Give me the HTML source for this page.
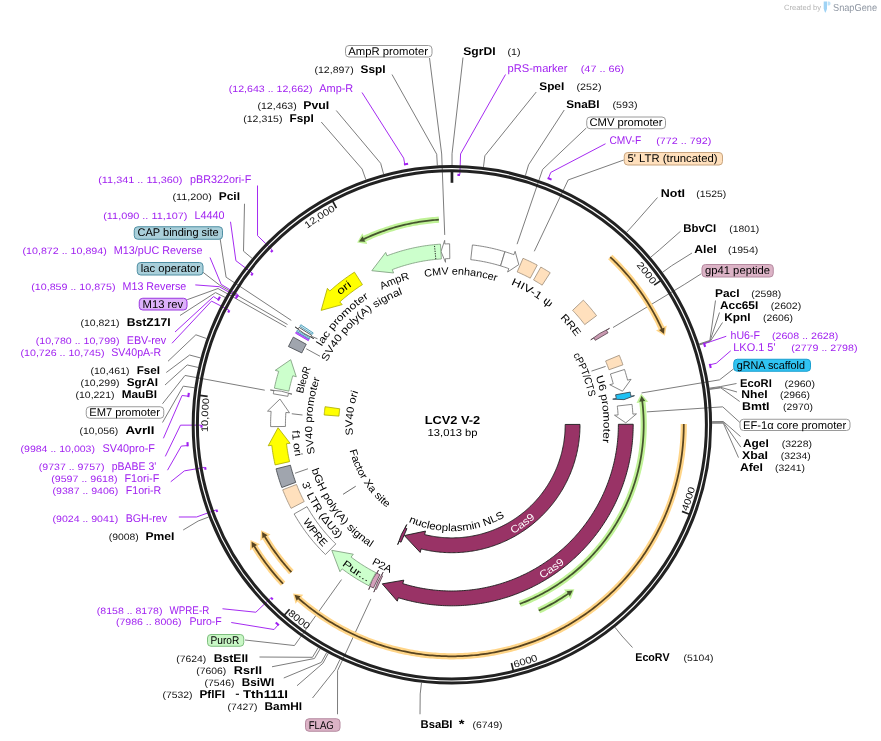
<!DOCTYPE html><html><head><meta charset="utf-8"><title>LCV2 V-2</title><style>html,body{margin:0;padding:0;background:#fff}svg{display:block;will-change:transform}text{text-rendering:geometricPrecision}</style></head><body><svg width="881" height="741" viewBox="0 0 881 741" font-family='"Liberation Sans", sans-serif'>
<defs><path id="p1" d="M537.48 196.68 A243.6 243.6 0 0 1 651.55 284.77"/><path id="p2" d="M687.59 511.57 A250.8 250.8 0 0 0 695.49 363.55"/><path id="p3" d="M514.5 667.69 A250.8 250.8 0 0 0 640.93 589.98"/><path id="p4" d="M287.43 614.37 A250.8 250.8 0 0 0 423.37 673.98"/><path id="p5" d="M236.77 539.72 A243.6 243.6 0 0 1 209.35 398.37"/><path id="p6" d="M234.85 313.52 A243.6 243.6 0 0 1 335.7 210.6"/><path id="p7" d="M310.29 376.35 A149.46 149.46 0 0 1 598.26 393.43"/><path id="p8" d="M347.88 314.15 A151.76 151.76 0 0 1 598.17 466.08"/><path id="p9" d="M388.95 286.78 A151.66 151.66 0 0 1 577.11 510.67"/><path id="p10" d="M439.27 285.81 A139.56 139.56 0 0 1 534.48 537.39"/><path id="p11" d="M477.26 275.37 A151.56 151.56 0 0 1 507.33 565.89"/><path id="p12" d="M351.41 458.21 A105.74 105.74 0 0 0 555.26 447.9"/><path id="p13" d="M373.05 354.95 A105.24 105.24 0 0 0 483.4 525.24"/><path id="p14" d="M414.31 516.69 A99.26 99.26 0 0 1 436.66 326.72"/><path id="p15" d="M405.71 556.73 A139.76 139.76 0 0 1 423.36 287.98"/><path id="p16" d="M370.46 553.05 A151.86 151.86 0 0 1 455.47 272.99"/><path id="p17" d="M391.3 276.96 A159.74 159.74 0 0 0 427.49 582.67"/><path id="p18" d="M335.11 335.38 A146.94 146.94 0 0 0 505.8 561.53"/><path id="p19" d="M330.92 318.74 A160.74 160.74 0 0 0 500.81 577.95"/><path id="p20" d="M321.48 501.76 A151.26 151.26 0 0 1 523.92 291.73"/><path id="p21" d="M327 486.79 A139.26 139.26 0 0 1 526.91 307.4"/><path id="p22" d="M301.31 441.36 A151.26 151.26 0 0 1 572.39 333.11"/><path id="p23" d="M294.78 394.64 A159.74 159.74 0 0 0 570.96 531.51"/><path id="p24" d="M282.42 370.85 A177.6 177.6 0 0 0 569.27 558.26"/><path id="p25" d="M308.8 319.91 A177.24 177.24 0 0 0 520.36 588.33"/><path id="p26" d="M294.4 490.85 A170.56 170.56 0 0 1 552.76 287.14"/><path id="p27" d="M338.22 561.59 A177.74 177.74 0 0 0 619.94 366.1"/><path id="p28" d="M373.59 521.61 A124.44 124.44 0 0 0 568.99 382.15"/></defs>
<rect width="881" height="741" fill="#fff"/>
<polyline points="463,57.5 452.03,153.8 452.03,165" fill="none" stroke="#7d7d7d" stroke-width="1.0" stroke-linejoin="round"/>
<polyline points="536.25,92 484.85,155.8 483.48,166.92" fill="none" stroke="#7d7d7d" stroke-width="1.0" stroke-linejoin="round"/>
<polyline points="564.25,110 528.56,164.83 525.39,175.58" fill="none" stroke="#7d7d7d" stroke-width="1.0" stroke-linejoin="round"/>
<polyline points="657.5,197.5 634.19,224.01 626.65,232.3" fill="none" stroke="#7d7d7d" stroke-width="1.0" stroke-linejoin="round"/>
<polyline points="680.5,231.25 659.29,249.97 650.72,257.19" fill="none" stroke="#7d7d7d" stroke-width="1.0" stroke-linejoin="round"/>
<polyline points="692,253 671.65,265.73 662.57,272.3" fill="none" stroke="#7d7d7d" stroke-width="1.0" stroke-linejoin="round"/>
<polyline points="715.5,300.5 709.86,340.48 699.2,343.97" fill="none" stroke="#7d7d7d" stroke-width="1.0" stroke-linejoin="round"/>
<polyline points="719.5,312.5 710.02,340.98 699.36,344.45" fill="none" stroke="#7d7d7d" stroke-width="1.0" stroke-linejoin="round"/>
<polyline points="722.5,322.5 710.19,341.48 699.51,344.92" fill="none" stroke="#7d7d7d" stroke-width="1.0" stroke-linejoin="round"/>
<polyline points="736.5,383.5 720.62,386.56 709.51,388.14" fill="none" stroke="#7d7d7d" stroke-width="1.0" stroke-linejoin="round"/>
<polyline points="737,392 720.73,387.33 709.62,388.88" fill="none" stroke="#7d7d7d" stroke-width="1.0" stroke-linejoin="round"/>
<polyline points="739.7,401.5 720.8,387.85 709.69,389.38" fill="none" stroke="#7d7d7d" stroke-width="1.0" stroke-linejoin="round"/>
<polyline points="740.5,436.5 723.31,421.5 712.1,421.63" fill="none" stroke="#7d7d7d" stroke-width="1.0" stroke-linejoin="round"/>
<polyline points="740.9,447.2 723.32,422.28 712.1,422.39" fill="none" stroke="#7d7d7d" stroke-width="1.0" stroke-linejoin="round"/>
<polyline points="738.5,457.6 723.33,423.2 712.11,423.26" fill="none" stroke="#7d7d7d" stroke-width="1.0" stroke-linejoin="round"/>
<polyline points="632.5,647.5 621.98,636 614.95,627.27" fill="none" stroke="#7d7d7d" stroke-width="1.0" stroke-linejoin="round"/>
<polyline points="420,714.25 420.19,693.94 421.5,682.82" fill="none" stroke="#7d7d7d" stroke-width="1.0" stroke-linejoin="round"/>
<polyline points="392,74.5 436.71,154.22 437.33,165.41" fill="none" stroke="#7d7d7d" stroke-width="1.0" stroke-linejoin="round"/>
<polyline points="336.25,110.5 380.66,163.3 383.61,174.11" fill="none" stroke="#7d7d7d" stroke-width="1.0" stroke-linejoin="round"/>
<polyline points="321.25,122 362.14,169.05 365.85,179.62" fill="none" stroke="#7d7d7d" stroke-width="1.0" stroke-linejoin="round"/>
<polyline points="244.5,203.75 243.5,251.17 252.11,258.35" fill="none" stroke="#7d7d7d" stroke-width="1.0" stroke-linejoin="round"/>
<polyline points="180,315.5 215.5,292.6 225.11,297.42" fill="none" stroke="#7d7d7d" stroke-width="1.0" stroke-linejoin="round"/>
<polyline points="168,361.25 195.88,334.79 206.46,338.51" fill="none" stroke="#7d7d7d" stroke-width="1.0" stroke-linejoin="round"/>
<polyline points="166.25,372.5 189.62,355.03 200.46,357.92" fill="none" stroke="#7d7d7d" stroke-width="1.0" stroke-linejoin="round"/>
<polyline points="165,385 187.17,364.94 198.11,367.42" fill="none" stroke="#7d7d7d" stroke-width="1.0" stroke-linejoin="round"/>
<polyline points="162.5,422.5 183.24,386.17 194.34,387.76" fill="none" stroke="#7d7d7d" stroke-width="1.0" stroke-linejoin="round"/>
<polyline points="183.2,530 198.15,521.02 208.64,517.04" fill="none" stroke="#7d7d7d" stroke-width="1.0" stroke-linejoin="round"/>
<polyline points="259.5,657 312.45,657.3 318.21,647.69" fill="none" stroke="#7d7d7d" stroke-width="1.0" stroke-linejoin="round"/>
<polyline points="272,666.75 314.47,658.5 320.15,648.84" fill="none" stroke="#7d7d7d" stroke-width="1.0" stroke-linejoin="round"/>
<polyline points="283.75,678 321.31,662.38 326.71,652.56" fill="none" stroke="#7d7d7d" stroke-width="1.0" stroke-linejoin="round"/>
<polyline points="297,685.75 322.92,663.25 328.25,653.4" fill="none" stroke="#7d7d7d" stroke-width="1.0" stroke-linejoin="round"/>
<polyline points="312.5,698 335.19,669.47 340.02,659.36" fill="none" stroke="#7d7d7d" stroke-width="1.0" stroke-linejoin="round"/>
<polyline points="505.5,74.5 460.55,153.94 459.9,174.33" fill="none" stroke="#a020f0" stroke-width="0.95" stroke-linejoin="round"/>
<polyline points="605.5,143.75 550.75,172.41 548.38,178.46" fill="none" stroke="#a020f0" stroke-width="0.95" stroke-linejoin="round"/>
<polyline points="726.25,336.25 710.27,341.73 704.07,343.72" fill="none" stroke="#a020f0" stroke-width="0.95" stroke-linejoin="round"/>
<polyline points="730.75,350.75 716.25,363.29 709.91,364.76" fill="none" stroke="#a020f0" stroke-width="0.95" stroke-linejoin="round"/>
<polyline points="362,92.5 403.67,158.11 404.82,164.51" fill="none" stroke="#a020f0" stroke-width="0.95" stroke-linejoin="round"/>
<polyline points="257.5,185.5 257.54,235.63 272.17,249.87" fill="none" stroke="#a020f0" stroke-width="0.95" stroke-linejoin="round"/>
<polyline points="230.5,221.75 235.9,260.69 252.16,273.04" fill="none" stroke="#a020f0" stroke-width="0.95" stroke-linejoin="round"/>
<polyline points="210,257.5 221.2,284.4 237.61,294.31" fill="none" stroke="#a020f0" stroke-width="0.95" stroke-linejoin="round"/>
<polyline points="195.3,284.9 219.2,286.7 236.42,296.28" fill="none" stroke="#a020f0" stroke-width="0.95" stroke-linejoin="round"/>
<polyline points="175,332 213.5,296.6 218.48,299.71" fill="none" stroke="#a020f0" stroke-width="0.95" stroke-linejoin="round"/>
<polyline points="172,343.25 211.5,301.1 228.77,310.03" fill="none" stroke="#a020f0" stroke-width="0.95" stroke-linejoin="round"/>
<polyline points="163.4,438.3 182.06,395.51 188.53,396.22" fill="none" stroke="#a020f0" stroke-width="0.95" stroke-linejoin="round"/>
<polyline points="165.3,456.4 180.47,425.16 200.9,425.13" fill="none" stroke="#a020f0" stroke-width="0.95" stroke-linejoin="round"/>
<polyline points="167.5,470.2 181.3,446.07 187.79,445.56" fill="none" stroke="#a020f0" stroke-width="0.95" stroke-linejoin="round"/>
<polyline points="170.75,481.75 184.42,470.86 204.55,467.4" fill="none" stroke="#a020f0" stroke-width="0.95" stroke-linejoin="round"/>
<polyline points="178.85,517 196.65,516.97 215.86,510.03" fill="none" stroke="#a020f0" stroke-width="0.95" stroke-linejoin="round"/>
<polyline points="222.5,608.75 255.85,612.23 270.61,598.12" fill="none" stroke="#a020f0" stroke-width="0.95" stroke-linejoin="round"/>
<polyline points="231.25,622.5 274.07,629.54 278.34,624.63" fill="none" stroke="#a020f0" stroke-width="0.95" stroke-linejoin="round"/>
<polyline points="429.5,58 441.68,153.99 444.73,234.93" fill="none" stroke="#7d7d7d" stroke-width="1.0" stroke-linejoin="round"/>
<polyline points="586.25,128 542.65,169.39 517.07,244.16" fill="none" stroke="#7d7d7d" stroke-width="1.0" stroke-linejoin="round"/>
<polyline points="623.75,160 568.19,179.93 534.29,251.31" fill="none" stroke="#7d7d7d" stroke-width="1.0" stroke-linejoin="round"/>
<polyline points="701.25,273.75 684.18,284.59 613.04,327.53" fill="none" stroke="#7d7d7d" stroke-width="1.0" stroke-linejoin="round"/>
<polyline points="733.75,368.75 719.57,379.83 641.54,392.94" fill="none" stroke="#7d7d7d" stroke-width="1.0" stroke-linejoin="round"/>
<polyline points="740.5,423 722.74,406.85 646.78,411.89" fill="none" stroke="#7d7d7d" stroke-width="1.0" stroke-linejoin="round"/>
<polyline points="220,238 226.1,277.2 291.3,320.4" fill="none" stroke="#7d7d7d" stroke-width="1.0" stroke-linejoin="round"/>
<polyline points="203,272.3 219.6,285.1 287.5,324.5" fill="none" stroke="#7d7d7d" stroke-width="1.0" stroke-linejoin="round"/>
<polyline points="187.2,299.7 218,288.5 286.25,327" fill="none" stroke="#7d7d7d" stroke-width="1.0" stroke-linejoin="round"/>
<polyline points="162.5,403.75 185,375.45 264.78,390.2" fill="none" stroke="#7d7d7d" stroke-width="1.0" stroke-linejoin="round"/>
<polyline points="245,640 294.46,645.56 341.52,579.57" fill="none" stroke="#7d7d7d" stroke-width="1.0" stroke-linejoin="round"/>
<polyline points="337.5,714.25 337.57,670.59 370.9,598.94" fill="none" stroke="#7d7d7d" stroke-width="1.0" stroke-linejoin="round"/>
<ellipse cx="451.9" cy="424.8" rx="258.71" ry="258.3" fill="none" stroke="#222222" stroke-width="3.0"/>
<ellipse cx="451.9" cy="424.8" rx="254.51" ry="254.1" fill="none" stroke="#222222" stroke-width="3.0"/>
<polyline points="660.72,280.59 654.13,285.15" fill="none" stroke="#222222" stroke-width="1.7" stroke-linejoin="round"/>
<text font-size="9.6" fill="#111"><textPath href="#p1" startOffset="100%" text-anchor="end" textLength="24.8" lengthAdjust="spacingAndGlyphs">2000</textPath></text>
<polyline points="689.48,514.23 681.98,511.41" fill="none" stroke="#222222" stroke-width="1.7" stroke-linejoin="round"/>
<text font-size="9.6" fill="#111"><textPath href="#p2" startOffset="0" text-anchor="start" textLength="24.8" lengthAdjust="spacingAndGlyphs">4000</textPath></text>
<polyline points="513.38,670.76 511.44,663" fill="none" stroke="#222222" stroke-width="1.7" stroke-linejoin="round"/>
<text font-size="9.6" fill="#111"><textPath href="#p3" startOffset="0" text-anchor="start" textLength="24.8" lengthAdjust="spacingAndGlyphs">6000</textPath></text>
<polyline points="284.26,615.2 289.56,609.19" fill="none" stroke="#222222" stroke-width="1.7" stroke-linejoin="round"/>
<text font-size="9.6" fill="#111"><textPath href="#p4" startOffset="0" text-anchor="start" textLength="24.8" lengthAdjust="spacingAndGlyphs">8000</textPath></text>
<polyline points="199.7,395.46 207.66,396.39" fill="none" stroke="#222222" stroke-width="1.7" stroke-linejoin="round"/>
<text font-size="9.6" fill="#111"><textPath href="#p5" startOffset="100%" text-anchor="end" textLength="33.8" lengthAdjust="spacingAndGlyphs">10,000</textPath></text>
<polyline points="332.6,201.02 336.37,208.09" fill="none" stroke="#222222" stroke-width="1.7" stroke-linejoin="round"/>
<text font-size="9.6" fill="#111"><textPath href="#p6" startOffset="100%" text-anchor="end" textLength="33.8" lengthAdjust="spacingAndGlyphs">12,000</textPath></text>
<polyline points="451.96,171.3 451.96,182.8" fill="none" stroke="#222222" stroke-width="2.7" stroke-linejoin="round"/>
<polyline points="457.43,174.86 460.03,174.93" fill="none" stroke="#a020f0" stroke-width="2.1" stroke-linejoin="round"/>
<polyline points="547.65,178.07 551.56,179.62" fill="none" stroke="#a020f0" stroke-width="2.1" stroke-linejoin="round"/>
<polyline points="703.91,342.91 705.18,346.91" fill="none" stroke="#a020f0" stroke-width="2.1" stroke-linejoin="round"/>
<polyline points="709.8,363.88 710.74,367.97" fill="none" stroke="#a020f0" stroke-width="2.1" stroke-linejoin="round"/>
<polyline points="403.93,164.57 408.07,163.84" fill="none" stroke="#a020f0" stroke-width="2.1" stroke-linejoin="round"/>
<polyline points="270.9,252.05 272.71,250.18" fill="none" stroke="#a020f0" stroke-width="2.1" stroke-linejoin="round"/>
<polyline points="251.23,275.26 252.8,273.18" fill="none" stroke="#a020f0" stroke-width="2.1" stroke-linejoin="round"/>
<polyline points="236.76,296.88 238.11,294.65" fill="none" stroke="#a020f0" stroke-width="2.1" stroke-linejoin="round"/>
<polyline points="235.78,298.54 237.11,296.3" fill="none" stroke="#a020f0" stroke-width="2.1" stroke-linejoin="round"/>
<polyline points="217.97,300.44 219.98,296.75" fill="none" stroke="#a020f0" stroke-width="2.1" stroke-linejoin="round"/>
<polyline points="228.19,312.49 229.37,310.17" fill="none" stroke="#a020f0" stroke-width="2.1" stroke-linejoin="round"/>
<polyline points="188.33,397.09 188.81,392.91" fill="none" stroke="#a020f0" stroke-width="2.1" stroke-linejoin="round"/>
<polyline points="201.52,427.64 201.5,425.04" fill="none" stroke="#a020f0" stroke-width="2.1" stroke-linejoin="round"/>
<polyline points="187.76,446.33 187.45,442.14" fill="none" stroke="#a020f0" stroke-width="2.1" stroke-linejoin="round"/>
<polyline points="205.57,469.7 205.12,467.14" fill="none" stroke="#a020f0" stroke-width="2.1" stroke-linejoin="round"/>
<polyline points="217.23,512.01 216.33,509.57" fill="none" stroke="#a020f0" stroke-width="2.1" stroke-linejoin="round"/>
<polyline points="272.79,599.51 270.98,597.64" fill="none" stroke="#a020f0" stroke-width="2.1" stroke-linejoin="round"/>
<polyline points="278.9,625.25 275.73,622.48" fill="none" stroke="#a020f0" stroke-width="2.1" stroke-linejoin="round"/>
<polygon points="449.62,243.81 448.02,243.84 446.41,243.88 444.8,243.94 444.66,240.34 440.99,251.54 445.52,262.32 445.38,258.73 446.86,258.68 448.33,258.64 449.81,258.61" fill="#ffffff" stroke="#6a6a6a" stroke-width="0.8" stroke-linejoin="miter"/>
<polygon points="440.44,244.16 438.67,244.28 436.91,244.42 435.14,244.57 433.38,244.75 431.62,244.94 429.86,245.14 428.1,245.37 426.35,245.61 424.59,245.86 422.84,246.14 421.1,246.43 419.35,246.74 417.61,247.07 415.87,247.41 414.14,247.77 412.41,248.15 410.68,248.54 408.96,248.95 407.24,249.38 405.53,249.82 403.81,250.28 402.11,250.76 400.41,251.25 398.71,251.77 397.02,252.29 395.34,252.84 393.66,253.4 391.98,253.97 390.31,254.56 388.65,255.17 386.99,255.8 385.7,252.44 371.84,270.7 393.59,272.98 392.3,269.62 393.82,269.04 395.35,268.48 396.88,267.94 398.42,267.41 399.96,266.9 401.51,266.4 403.06,265.91 404.62,265.44 406.18,264.99 407.75,264.55 409.32,264.13 410.89,263.72 412.47,263.33 414.05,262.95 415.64,262.59 417.23,262.25 418.82,261.91 420.42,261.6 422.01,261.3 423.62,261.02 425.22,260.75 426.83,260.5 428.44,260.26 430.05,260.04 431.66,259.83 433.28,259.64 434.89,259.47 436.51,259.31 438.13,259.17 439.75,259.04 441.38,258.93" fill="#ccffcc" stroke="#789878" stroke-width="0.8" stroke-linejoin="miter"/>
<polygon points="472.43,244.96 474.16,245.17 475.89,245.39 477.62,245.63 479.35,245.89 481.07,246.16 482.8,246.45 484.51,246.75 486.23,247.07 487.94,247.41 489.65,247.77 491.36,248.14 493.06,248.53 494.76,248.93 496.45,249.35 498.14,249.79 499.83,250.24 501.51,250.71 503.19,251.19 504.86,251.7 500.53,265.85 499,265.39 497.46,264.94 495.91,264.51 494.36,264.1 492.81,263.7 491.26,263.31 489.7,262.94 488.13,262.58 486.57,262.24 485,261.92 483.42,261.61 481.85,261.31 480.27,261.03 478.69,260.77 477.1,260.52 475.52,260.28 473.93,260.06 472.34,259.86 470.75,259.67" fill="#ffffff" stroke="#6a6a6a" stroke-width="0.8" stroke-linejoin="miter"/>
<polygon points="504.95,251.72 506.44,252.19 507.94,252.66 509.43,253.16 510.92,253.66 512.4,254.18 513.88,254.71 515.11,251.32 518.8,264.57 507.58,272 508.81,268.61 507.45,268.13 506.09,267.65 504.73,267.19 503.36,266.74 501.98,266.3 500.61,265.87" fill="#ffffff" stroke="#6a6a6a" stroke-width="0.8" stroke-linejoin="miter"/>
<polygon points="523.03,258.31 524.63,259.01 526.23,259.71 527.83,260.44 529.41,261.18 530.99,261.93 532.56,262.7 534.13,263.49 535.68,264.29 537.23,265.1 530.26,278.16 528.83,277.41 527.4,276.68 525.97,275.96 524.52,275.25 523.08,274.56 521.62,273.88 520.16,273.21 518.69,272.56 517.21,271.93" fill="#ffe0bd" stroke="#9c8c78" stroke-width="0.8" stroke-linejoin="miter"/>
<polygon points="540.84,267.08 542.2,267.85 543.55,268.63 544.9,269.43 546.23,270.23 547.57,271.05 548.89,271.88 550.21,272.72 542.17,285.16 540.96,284.39 539.74,283.62 538.52,282.87 537.29,282.13 536.06,281.4 534.82,280.68 533.57,279.98" fill="#ffe0bd" stroke="#9c8c78" stroke-width="0.8" stroke-linejoin="miter"/>
<polygon points="583.35,300.15 584.52,301.39 585.67,302.64 586.81,303.89 587.94,305.16 589.06,306.44 590.16,307.73 591.26,309.03 592.34,310.34 593.41,311.66 594.46,312.99 595.51,314.33 596.54,315.68 584.71,324.6 583.76,323.36 582.8,322.13 581.84,320.91 580.85,319.7 579.86,318.5 578.86,317.3 577.84,316.12 576.82,314.94 575.78,313.78 574.73,312.63 573.67,311.48 572.6,310.35" fill="#ffe0bd" stroke="#9c8c78" stroke-width="0.8" stroke-linejoin="miter"/>
<polygon points="608.03,332.8 607.25,331.51 606.47,330.22 609.55,328.34 599.73,333.41 590.76,339.84 593.83,337.96 594.55,339.14 595.26,340.33" fill="#c898b0" stroke="#54404a" stroke-width="0.8" stroke-linejoin="miter"/>
<polygon points="619.29,355.3 619.94,356.87 620.57,358.46 621.19,360.04 621.79,361.64 622.38,363.24 622.95,364.84 608.97,369.75 608.44,368.27 607.9,366.8 607.35,365.34 606.78,363.88 606.2,362.43 605.6,360.98" fill="#ffe0bd" stroke="#9c8c78" stroke-width="0.8" stroke-linejoin="miter"/>
<polygon points="624.52,369.48 625,371 625.46,372.52 625.91,374.04 626.35,375.56 626.78,377.09 627.19,378.63 627.59,380.17 631.09,379.28 622.49,391.21 609.73,384.7 613.23,383.82 612.86,382.4 612.48,381 612.09,379.59 611.69,378.19 611.27,376.79 610.84,375.4 610.4,374.01" fill="#ffffff" stroke="#6a6a6a" stroke-width="0.8" stroke-linejoin="miter"/>
<polygon points="630.21,392.1 630.45,393.47 630.69,394.85 630.92,396.22 634.48,395.66 623.94,399.64 612.72,399.13 616.28,398.56 616.07,397.3 615.85,396.03 615.63,394.77" fill="#1fc1f3" stroke="#3a4a55" stroke-width="0.9" stroke-linejoin="miter"/>
<polygon points="632.03,404.37 632.21,405.99 632.37,407.61 632.52,409.23 632.65,410.86 632.77,412.48 632.87,414.11 636.47,413.89 625.77,422.85 614.48,415.19 618.08,414.98 617.98,413.49 617.87,412 617.75,410.51 617.61,409.02 617.46,407.53 617.3,406.04" fill="#ffffff" stroke="#6a6a6a" stroke-width="0.8" stroke-linejoin="miter"/>
<polygon points="633.19,424.25 633.19,426.06 633.16,427.86 633.12,429.66 633.07,431.47 632.99,433.27 632.9,435.07 632.79,436.87 632.66,438.67 632.51,440.47 632.34,442.26 632.16,444.06 631.96,445.85 631.74,447.64 631.5,449.43 631.25,451.22 630.98,453 630.69,454.78 630.38,456.56 630.05,458.33 629.71,460.1 629.35,461.87 628.97,463.63 628.57,465.39 628.16,467.15 627.73,468.9 627.28,470.65 626.81,472.39 626.33,474.13 625.83,475.86 625.31,477.59 624.77,479.31 624.22,481.03 623.65,482.74 623.06,484.45 622.46,486.15 621.84,487.84 621.2,489.53 620.55,491.21 619.87,492.89 619.19,494.55 618.48,496.21 617.76,497.87 617.02,499.52 616.27,501.15 615.5,502.79 614.71,504.41 613.91,506.03 613.09,507.63 612.26,509.23 611.41,510.82 610.54,512.41 609.66,513.98 608.76,515.55 607.84,517.1 606.92,518.65 605.97,520.19 605.01,521.72 604.04,523.23 603.05,524.74 602.04,526.24 601.02,527.73 599.99,529.21 598.94,530.68 597.87,532.14 596.79,533.58 595.7,535.02 594.59,536.44 593.47,537.86 592.34,539.26 591.19,540.65 590.02,542.03 588.85,543.4 587.66,544.76 586.45,546.1 585.23,547.44 584,548.76 582.76,550.07 581.5,551.36 580.23,552.64 578.95,553.91 577.66,555.17 576.35,556.42 575.03,557.65 573.7,558.87 572.35,560.07 571,561.26 569.63,562.44 568.25,563.61 566.86,564.76 565.45,565.89 564.04,567.02 562.61,568.13 561.18,569.22 559.73,570.3 558.27,571.37 556.81,572.42 555.33,573.45 553.84,574.48 552.34,575.48 550.83,576.47 549.31,577.45 547.78,578.41 546.24,579.36 544.7,580.29 543.14,581.21 541.57,582.11 540,582.99 538.42,583.86 536.82,584.71 535.22,585.55 533.62,586.37 532,587.18 530.37,587.96 528.74,588.74 527.1,589.49 525.45,590.23 523.8,590.96 522.14,591.66 520.47,592.35 518.79,593.03 517.11,593.69 515.42,594.33 513.72,594.95 512.02,595.56 510.32,596.15 508.6,596.72 506.88,597.27 505.16,597.81 503.43,598.33 501.69,598.84 499.96,599.33 498.21,599.79 496.46,600.25 494.71,600.68 492.95,601.1 491.19,601.5 489.42,601.88 487.65,602.25 485.88,602.59 484.1,602.92 482.32,603.23 480.54,603.53 478.76,603.8 476.97,604.06 475.18,604.3 473.39,604.52 471.59,604.73 469.79,604.92 467.99,605.09 466.19,605.24 464.39,605.37 462.59,605.49 460.79,605.58 458.98,605.66 457.17,605.72 455.37,605.77 453.56,605.79 451.76,605.8 449.95,605.79 448.14,605.76 446.34,605.71 444.53,605.65 442.73,605.57 440.92,605.47 439.12,605.35 437.32,605.21 435.52,605.06 433.72,604.89 431.92,604.7 430.13,604.49 428.33,604.26 426.54,604.02 424.76,603.76 422.97,603.48 421.19,603.18 419.41,602.87 417.63,602.54 415.86,602.19 414.09,601.82 412.33,601.44 410.57,601.03 408.81,600.61 407.06,600.18 405.31,599.72 403.57,599.25 401.83,598.76 400.09,598.25 398.36,597.73 397.3,601.17 382.26,583.87 403.81,580.15 402.74,583.59 404.33,584.07 405.92,584.53 407.52,584.98 409.12,585.42 410.72,585.84 412.33,586.24 413.95,586.62 415.56,586.99 417.19,587.35 418.81,587.68 420.44,588 422.07,588.31 423.7,588.6 425.34,588.87 426.98,589.13 428.62,589.37 430.26,589.59 431.91,589.8 433.56,589.99 435.21,590.16 436.86,590.32 438.51,590.46 440.16,590.59 441.82,590.69 443.48,590.79 445.13,590.86 446.79,590.92 448.45,590.96 450.11,590.99 451.77,591 453.43,590.99 455.08,590.97 456.74,590.93 458.4,590.87 460.06,590.8 461.72,590.71 463.37,590.6 465.03,590.48 466.68,590.34 468.33,590.19 469.98,590.02 471.63,589.83 473.27,589.62 474.92,589.4 476.56,589.17 478.2,588.91 479.84,588.64 481.47,588.36 483.1,588.05 484.73,587.74 486.35,587.4 487.98,587.05 489.59,586.68 491.21,586.3 492.82,585.9 494.42,585.49 496.03,585.05 497.62,584.61 499.22,584.14 500.8,583.67 502.39,583.17 503.97,582.66 505.54,582.14 507.11,581.59 508.67,581.04 510.23,580.46 511.78,579.88 513.32,579.27 514.86,578.65 516.39,578.02 517.92,577.37 519.44,576.71 520.95,576.03 522.46,575.33 523.96,574.62 525.45,573.9 526.93,573.16 528.41,572.41 529.88,571.64 531.34,570.85 532.8,570.06 534.24,569.24 535.68,568.42 537.11,567.58 538.53,566.72 539.94,565.85 541.35,564.97 542.74,564.07 544.13,563.16 545.5,562.24 546.87,561.3 548.23,560.35 549.58,559.38 550.91,558.4 552.24,557.41 553.56,556.41 554.87,555.39 556.17,554.36 557.46,553.31 558.73,552.26 560,551.19 561.26,550.11 562.5,549.01 563.74,547.91 564.96,546.79 566.17,545.66 567.37,544.51 568.56,543.36 569.74,542.19 570.91,541.01 572.06,539.82 573.2,538.62 574.33,537.41 575.45,536.18 576.56,534.95 577.65,533.7 578.73,532.45 579.8,531.18 580.85,529.9 581.9,528.61 582.93,527.32 583.94,526.01 584.95,524.69 585.94,523.36 586.91,522.02 587.88,520.67 588.83,519.31 589.76,517.95 590.69,516.57 591.6,515.19 592.49,513.79 593.37,512.39 594.24,510.98 595.09,509.56 595.93,508.13 596.76,506.69 597.57,505.24 598.36,503.79 599.14,502.33 599.91,500.86 600.66,499.38 601.4,497.9 602.12,496.41 602.83,494.91 603.52,493.41 604.2,491.89 604.86,490.38 605.51,488.85 606.14,487.32 606.76,485.78 607.36,484.24 607.94,482.69 608.51,481.13 609.07,479.57 609.61,478 610.13,476.43 610.64,474.86 611.13,473.27 611.6,471.69 612.06,470.1 612.51,468.5 612.94,466.9 613.35,465.3 613.75,463.69 614.13,462.07 614.49,460.46 614.84,458.84 615.17,457.22 615.48,455.59 615.78,453.96 616.07,452.33 616.33,450.69 616.58,449.06 616.82,447.42 617.03,445.77 617.24,444.13 617.42,442.48 617.59,440.84 617.74,439.19 617.88,437.54 618,435.88 618.1,434.23 618.18,432.58 618.25,430.92 618.31,429.27 618.34,427.61 618.36,425.95 618.37,424.3" fill="#993366" stroke="#1c1c1c" stroke-width="0.9" stroke-linejoin="miter"/>
<polygon points="376.41,589.36 375.88,589.12 375.34,588.87 373.82,592.13 377.75,581.82 383.12,572.19 381.6,575.45 382.09,575.68 382.58,575.91" fill="#d4a0bb" stroke="#54404a" stroke-width="0.8" stroke-linejoin="miter"/>
<polygon points="373.48,587.99 371.89,587.22 370.31,586.43 368.69,589.65 372.47,579.23 378.61,570 376.98,573.22 378.43,573.94 379.89,574.65" fill="#d4a0bb" stroke="#54404a" stroke-width="0.8" stroke-linejoin="miter"/>
<polygon points="369.01,585.77 367.44,584.96 365.88,584.13 364.33,583.28 362.79,582.42 361.25,581.55 359.73,580.66 358.21,579.76 356.7,578.84 355.2,577.9 353.71,576.95 352.23,575.99 350.76,575.02 349.3,574.02 347.85,573.02 346.41,572 344.97,570.97 343.55,569.92 342.14,568.86 339.96,571.72 331.78,550.31 353.3,554.21 351.12,557.08 352.41,558.05 353.72,559.01 355.03,559.96 356.36,560.9 357.69,561.82 359.03,562.73 360.38,563.63 361.74,564.51 363.11,565.38 364.49,566.24 365.87,567.09 367.26,567.92 368.67,568.73 370.07,569.54 371.49,570.33 372.92,571.1 374.35,571.86 375.79,572.61" fill="#ccffcc" stroke="#789878" stroke-width="0.8" stroke-linejoin="miter"/>
<polygon points="325.46,554.51 324.2,553.27 322.94,552.02 321.7,550.75 320.47,549.47 319.26,548.18 318.05,546.88 316.86,545.56 315.68,544.24 314.52,542.9 313.37,541.55 312.23,540.19 311.11,538.82 309.99,537.44 308.9,536.05 307.81,534.65 306.74,533.23 305.69,531.81 304.64,530.37 303.62,528.93 302.6,527.47 301.6,526.01 300.62,524.54 299.65,523.05 298.69,521.56 297.75,520.06 296.82,518.55 295.91,517.03 295.01,515.5 294.13,513.96 307.03,506.67 307.84,508.08 308.66,509.49 309.5,510.88 310.35,512.27 311.22,513.65 312.1,515.02 312.99,516.38 313.89,517.73 314.81,519.08 315.74,520.41 316.68,521.74 317.64,523.06 318.61,524.37 319.59,525.66 320.59,526.95 321.6,528.23 322.62,529.5 323.65,530.76 324.7,532.01 325.75,533.24 326.82,534.47 327.9,535.69 329,536.9 330.1,538.09 331.22,539.28 332.35,540.45 333.49,541.61 334.64,542.77 335.8,543.91" fill="#ffffff" stroke="#6a6a6a" stroke-width="0.8" stroke-linejoin="miter"/>
<polygon points="291.08,508.35 290.3,506.84 289.54,505.33 288.79,503.81 288.06,502.27 287.34,500.74 286.63,499.19 285.94,497.64 285.26,496.09 284.6,494.52 283.95,492.96 283.32,491.38 282.7,489.8 296.54,484.48 297.11,485.94 297.69,487.38 298.28,488.82 298.89,490.26 299.51,491.69 300.15,493.11 300.79,494.53 301.45,495.94 302.13,497.34 302.82,498.74 303.52,500.14 304.23,501.52" fill="#ffe0bd" stroke="#9c8c78" stroke-width="0.8" stroke-linejoin="miter"/>
<polygon points="281.84,487.51 281.23,485.84 280.64,484.16 280.06,482.48 279.5,480.79 278.96,479.09 278.43,477.39 277.92,475.68 277.43,473.97 276.95,472.26 276.49,470.54 276.05,468.82 290.43,465.22 290.84,466.8 291.26,468.38 291.7,469.95 292.15,471.52 292.62,473.09 293.1,474.65 293.6,476.21 294.11,477.76 294.64,479.31 295.18,480.85 295.74,482.38" fill="#a0a5ae" stroke="#3e4146" stroke-width="0.8" stroke-linejoin="miter"/>
<polygon points="275.12,464.91 274.73,463.15 274.35,461.38 274,459.62 273.66,457.85 273.34,456.07 273.03,454.3 272.75,452.52 272.48,450.73 272.23,448.95 272,447.16 271.79,445.37 268.2,445.78 278.05,427.71 290.1,443.28 286.51,443.69 286.71,445.33 286.92,446.97 287.15,448.61 287.4,450.25 287.66,451.88 287.94,453.52 288.23,455.14 288.54,456.77 288.87,458.39 289.21,460.01 289.57,461.63" fill="#ffff00" stroke="#a8a800" stroke-width="0.8" stroke-linejoin="miter"/>
<polygon points="270.62,426.61 270.61,424.92 270.62,423.23 270.64,421.53 270.68,419.84 270.73,418.15 270.8,416.46 270.89,414.77 270.99,413.08 271.11,411.39 267.51,411.12 279.94,399.06 289.49,412.75 285.89,412.48 285.78,414.03 285.69,415.59 285.61,417.14 285.55,418.69 285.5,420.25 285.46,421.8 285.44,423.36 285.43,424.91 285.44,426.47" fill="#ffffff" stroke="#6a6a6a" stroke-width="0.8" stroke-linejoin="miter"/>
<polygon points="273.29,393.82 273.57,392.24 273.86,390.66 270.32,389.99 281.31,391.21 291.96,394.13 288.42,393.46 288.15,394.9 287.89,396.35" fill="#ffffff" stroke="#6a6a6a" stroke-width="0.8" stroke-linejoin="miter"/>
<polygon points="274.37,388.15 274.72,386.46 275.1,384.77 275.49,383.08 275.9,381.4 276.32,379.72 276.76,378.04 277.22,376.37 277.69,374.7 278.18,373.04 278.69,371.38 275.24,370.32 290.72,359.69 296.29,376.81 292.85,375.75 292.39,377.27 291.94,378.8 291.5,380.33 291.08,381.86 290.68,383.4 290.29,384.94 289.92,386.49 289.56,388.04 289.21,389.59 288.88,391.15" fill="#ccffcc" stroke="#789878" stroke-width="0.8" stroke-linejoin="miter"/>
<polygon points="288.44,346.52 289.21,344.94 290,343.36 290.8,341.79 291.62,340.23 292.45,338.67 293.3,337.13 306.27,344.3 305.49,345.72 304.72,347.14 303.97,348.58 303.24,350.02 302.51,351.47 301.81,352.92" fill="#a0a5ae" stroke="#3e4146" stroke-width="0.8" stroke-linejoin="miter"/>
<polygon points="295.55,333.18 295.91,332.58 296.27,331.98 308.99,339.57 308.66,340.12 308.34,340.67" fill="#c080ff" stroke="#a020f0" stroke-width="0.8" stroke-linejoin="miter"/>
<polygon points="296.63,331.38 296.99,330.78 297.35,330.18 309.99,337.92 309.66,338.47 309.32,339.02" fill="#cfe6ee" stroke="#2f8fb0" stroke-width="0.8" stroke-linejoin="miter"/>
<polygon points="299.12,327.37 298.64,328.12 298.16,328.88 295.1,326.97 304.02,333.48 313.79,338.63 310.73,336.72 311.17,336.03 311.61,335.33" fill="#ffffff" stroke="#333" stroke-width="0.8" stroke-linejoin="miter"/>
<polygon points="299.83,326.26 300.33,325.5 300.84,324.73 313.19,332.91 312.72,333.62 312.26,334.32" fill="#cfe6ee" stroke="#2f8fb0" stroke-width="0.8" stroke-linejoin="miter"/>
<polygon points="354.48,272.16 353.02,273.09 351.58,274.04 350.15,275 348.72,275.98 347.3,276.96 345.9,277.97 344.5,278.98 343.11,280.01 341.74,281.05 340.37,282.11 339.01,283.17 337.66,284.26 336.33,285.35 335,286.46 333.69,287.57 332.38,288.71 331.09,289.85 329.8,291.01 327.38,288.34 321.13,310.39 342.22,304.61 339.79,301.95 340.97,300.88 342.15,299.83 343.35,298.8 344.56,297.77 345.78,296.75 347,295.75 348.24,294.76 349.49,293.77 350.74,292.81 352.01,291.85 353.28,290.9 354.56,289.97 355.86,289.05 357.16,288.14 358.47,287.25 359.78,286.37 361.11,285.5 362.44,284.64" fill="#ffff00" stroke="#a8a800" stroke-width="0.8" stroke-linejoin="miter"/>
<polygon points="580,424.41 580,425.69 579.99,426.97 579.96,428.24 579.92,429.52 579.86,430.8 579.8,432.07 579.72,433.35 579.63,434.62 579.52,435.89 579.4,437.16 579.27,438.43 579.13,439.7 578.98,440.97 578.81,442.23 578.63,443.5 578.43,444.76 578.23,446.02 578.01,447.28 577.78,448.53 577.54,449.79 577.28,451.04 577.01,452.29 576.73,453.53 576.44,454.78 576.13,456.02 575.81,457.25 575.48,458.49 575.14,459.72 574.78,460.94 574.42,462.16 574.04,463.38 573.64,464.6 573.24,465.81 572.82,467.02 572.4,468.22 571.96,469.42 571.5,470.61 571.04,471.8 570.56,472.99 570.08,474.17 569.58,475.34 569.07,476.51 568.54,477.68 568.01,478.84 567.46,479.99 566.9,481.14 566.34,482.29 565.76,483.42 565.16,484.56 564.56,485.68 563.95,486.8 563.32,487.92 562.68,489.02 562.04,490.12 561.38,491.22 560.71,492.31 560.03,493.39 559.34,494.46 558.63,495.53 557.92,496.59 557.2,497.64 556.47,498.69 555.72,499.73 554.97,500.76 554.2,501.78 553.43,502.8 552.64,503.8 551.85,504.8 551.04,505.8 550.23,506.78 549.4,507.76 548.57,508.72 547.73,509.68 546.87,510.63 546.01,511.58 545.14,512.51 544.25,513.44 543.36,514.35 542.46,515.26 541.56,516.16 540.64,517.05 539.71,517.93 538.77,518.8 537.83,519.66 536.88,520.51 535.92,521.35 534.95,522.18 533.97,523.01 532.98,523.82 531.99,524.62 530.99,525.42 529.98,526.2 528.96,526.97 527.93,527.74 526.9,528.49 525.86,529.23 524.81,529.96 523.76,530.68 522.7,531.39 521.63,532.09 520.55,532.78 519.47,533.46 518.38,534.13 517.28,534.79 516.18,535.43 515.07,536.07 513.95,536.69 512.83,537.31 511.7,537.91 510.57,538.5 509.43,539.08 508.28,539.65 507.13,540.2 505.98,540.75 504.81,541.28 503.65,541.8 502.47,542.31 501.3,542.81 500.11,543.3 498.93,543.77 497.74,544.23 496.54,544.68 495.34,545.12 494.13,545.55 492.92,545.96 491.71,546.37 490.49,546.76 489.27,547.14 488.05,547.5 486.82,547.86 485.59,548.2 484.35,548.53 483.11,548.85 481.87,549.15 480.62,549.44 479.38,549.72 478.13,549.99 476.87,550.25 475.62,550.49 474.36,550.72 473.1,550.94 471.84,551.14 470.57,551.33 469.31,551.51 468.04,551.68 466.77,551.84 465.5,551.98 464.23,552.11 462.95,552.22 461.68,552.33 460.4,552.42 459.13,552.5 457.85,552.56 456.57,552.61 455.29,552.66 454.02,552.68 452.74,552.7 451.46,552.7 450.18,552.69 448.9,552.66 447.62,552.63 446.34,552.58 445.07,552.52 443.79,552.44 442.51,552.36 441.24,552.26 439.97,552.14 438.69,552.02 437.42,551.88 436.15,551.73 434.88,551.57 433.62,551.39 432.35,551.2 431.09,551 429.83,550.79 428.57,550.56 427.31,550.32 426.06,550.07 424.81,549.81 423.56,549.53 422.31,549.24 421.07,548.94 420.2,552.44 404.36,535.56 425.51,531.08 424.64,534.58 425.74,534.84 426.84,535.1 427.94,535.34 429.05,535.58 430.16,535.8 431.27,536.01 432.38,536.21 433.5,536.4 434.61,536.58 435.73,536.74 436.85,536.9 437.97,537.04 439.1,537.18 440.22,537.3 441.35,537.41 442.47,537.51 443.6,537.6 444.73,537.67 445.86,537.74 446.99,537.79 448.12,537.84 449.25,537.87 450.38,537.89 451.51,537.9 452.64,537.9 453.77,537.88 454.9,537.86 456.03,537.82 457.16,537.78 458.29,537.72 459.42,537.65 460.55,537.57 461.67,537.48 462.8,537.38 463.93,537.26 465.05,537.14 466.17,537 467.29,536.85 468.41,536.69 469.53,536.52 470.65,536.34 471.76,536.15 472.87,535.94 473.98,535.73 475.09,535.5 476.2,535.27 477.3,535.02 478.4,534.76 479.5,534.49 480.6,534.21 481.69,533.92 482.78,533.62 483.86,533.3 484.95,532.98 486.03,532.65 487.1,532.3 488.18,531.94 489.25,531.58 490.31,531.2 491.37,530.81 492.43,530.41 493.49,530 494.54,529.58 495.58,529.15 496.62,528.71 497.66,528.26 498.69,527.8 499.72,527.33 500.74,526.85 501.76,526.36 502.77,525.85 503.78,525.34 504.78,524.82 505.78,524.29 506.77,523.75 507.76,523.19 508.74,522.63 509.72,522.06 510.68,521.48 511.65,520.89 512.61,520.29 513.56,519.68 514.5,519.06 515.44,518.43 516.38,517.79 517.3,517.15 518.22,516.49 519.14,515.82 520.04,515.15 520.94,514.47 521.84,513.77 522.72,513.07 523.6,512.36 524.47,511.64 525.34,510.91 526.19,510.18 527.04,509.43 527.89,508.68 528.72,507.92 529.55,507.15 530.37,506.37 531.18,505.59 531.98,504.79 532.78,503.99 533.57,503.18 534.35,502.36 535.12,501.54 535.88,500.7 536.64,499.86 537.38,499.01 538.12,498.16 538.85,497.29 539.57,496.42 540.28,495.55 540.99,494.66 541.68,493.77 542.36,492.87 543.04,491.97 543.71,491.06 544.37,490.14 545.01,489.21 545.65,488.28 546.28,487.34 546.9,486.4 547.52,485.45 548.12,484.49 548.71,483.53 549.29,482.56 549.86,481.59 550.43,480.61 550.98,479.63 551.52,478.64 552.06,477.64 552.58,476.64 553.09,475.63 553.6,474.62 554.09,473.61 554.57,472.59 555.05,471.56 555.51,470.53 555.96,469.5 556.4,468.46 556.83,467.41 557.25,466.36 557.66,465.31 558.06,464.26 558.45,463.2 558.83,462.13 559.2,461.07 559.56,459.99 559.9,458.92 560.24,457.84 560.56,456.76 560.88,455.67 561.18,454.59 561.47,453.5 561.76,452.4 562.03,451.31 562.29,450.21 562.53,449.11 562.77,448 563,446.9 563.21,445.79 563.42,444.68 563.61,443.57 563.79,442.45 563.96,441.33 564.12,440.22 564.27,439.1 564.41,437.98 564.54,436.86 564.65,435.73 564.75,434.61 564.85,433.48 564.93,432.36 565,431.23 565.06,430.1 565.1,428.97 565.14,427.85 565.16,426.72 565.18,425.59 565.18,424.46" fill="#993366" stroke="#1c1c1c" stroke-width="0.9" stroke-linejoin="miter"/>
<polygon points="401.04,542.19 400.1,541.78 399.16,541.36 397.68,544.64 401.48,534.28 406.75,524.59 405.26,527.87 406.09,528.24 406.93,528.61" fill="#a03070" stroke="#1c1c1c" stroke-width="0.9" stroke-linejoin="miter"/>
<polygon points="324.17,414.98 324.27,413.79 324.38,412.6 324.5,411.42 324.63,410.23 324.77,409.05 324.92,407.87 325.09,406.69 339.76,408.79 339.62,409.83 339.48,410.87 339.36,411.92 339.24,412.97 339.14,414.01 339.04,415.06 338.95,416.11" fill="#ffff00" stroke="#a8a800" stroke-width="0.8" stroke-linejoin="miter"/>
<polyline points="355.72,486.24 343.06,494.32" fill="none" stroke="#6a6a6a" stroke-width="1.0" stroke-linejoin="round"/>
<line x1="435.82" y1="259.08" x2="434.45" y2="244.94" stroke="#222" stroke-width="1" stroke-dasharray="1.2 1.2"/>
<path d="M438.89 219.71 L436.86 219.85 L434.83 220.01 L432.8 220.19 L430.78 220.39 L428.75 220.6 L426.73 220.84 L424.71 221.1 L422.69 221.38 L420.68 221.68 L418.67 222 L416.66 222.33 L414.66 222.69 L412.66 223.07 L410.66 223.47 L408.67 223.88 L406.68 224.32 L404.7 224.78 L402.72 225.25 L400.74 225.75 L398.78 226.26 L396.81 226.8 L394.85 227.35 L392.9 227.92 L390.95 228.52 L389.01 229.13 L387.08 229.76 L385.15 230.41 L383.22 231.08 L381.31 231.76 L379.4 232.47 L377.5 233.2 L375.6 233.94 L373.72 234.7 L371.84 235.48 L369.97 236.28 L368.1 237.1 L366.25 237.94 L364.4 238.79" fill="none" stroke="#c0f297" stroke-width="6.2" stroke-linecap="butt"/>
<polygon points="362.36,233.23 357.13,242.38 367.35,243.93" fill="#c0f297"/>
<path d="M438.89 219.71 L436.89 219.85 L434.88 220 L432.88 220.18 L430.88 220.37 L428.88 220.59 L426.89 220.82 L424.89 221.08 L422.9 221.35 L420.92 221.64 L418.93 221.95 L416.95 222.28 L414.97 222.63 L413 223 L411.03 223.39 L409.06 223.8 L407.1 224.23 L405.14 224.67 L403.18 225.14 L401.23 225.62 L399.29 226.13 L397.35 226.65 L395.41 227.19 L393.48 227.75 L391.56 228.33 L389.64 228.93 L387.73 229.54 L385.82 230.18 L383.92 230.83 L382.03 231.5 L380.15 232.19 L378.27 232.9 L376.39 233.63 L374.53 234.37 L372.67 235.14 L370.82 235.92 L368.98 236.72 L367.14 237.53 L365.31 238.37 L363.5 239.22" fill="none" stroke="#45542e" stroke-width="1.75" stroke-linecap="butt"/>
<polygon points="362.66,236.29 358.91,241.47 365.23,241.72" fill="#45542e"/>
<path d="M610.22 257.04 L611.86 258.6 L613.49 260.18 L615.11 261.77 L616.7 263.38 L618.29 265.01 L619.85 266.65 L621.4 268.3 L622.93 269.97 L624.45 271.66 L625.95 273.36 L627.43 275.08 L628.9 276.81 L630.35 278.55 L631.78 280.31 L633.19 282.09 L634.59 283.87 L635.97 285.67 L637.33 287.49 L638.68 289.31 L640 291.15 L641.31 293.01 L642.6 294.87 L643.87 296.75 L645.12 298.64 L646.35 300.54 L647.57 302.46 L648.76 304.39 L649.94 306.32 L651.1 308.27 L652.23 310.24 L653.35 312.21 L654.45 314.19 L655.53 316.18 L656.59 318.19 L657.63 320.2 L658.65 322.23 L659.65 324.26 L660.63 326.31 L661.59 328.36" fill="none" stroke="#ffd588" stroke-width="6.2" stroke-linecap="butt"/>
<polygon points="666.74,325.43 664.85,335.78 656.02,330.39" fill="#ffd588"/>
<path d="M610.22 257.04 L611.88 258.62 L613.53 260.21 L615.16 261.82 L616.78 263.45 L618.38 265.1 L619.96 266.76 L621.52 268.44 L623.07 270.13 L624.6 271.83 L626.12 273.56 L627.62 275.29 L629.1 277.05 L630.56 278.81 L632.01 280.59 L633.43 282.39 L634.84 284.2 L636.23 286.02 L637.61 287.86 L638.96 289.71 L640.3 291.57 L641.62 293.45 L642.91 295.34 L644.19 297.24 L645.46 299.16 L646.7 301.08 L647.92 303.02 L649.12 304.98 L650.31 306.94 L651.47 308.92 L652.61 310.9 L653.74 312.9 L654.84 314.91 L655.93 316.93 L656.99 318.96 L658.04 321 L659.06 323.06 L660.06 325.12 L661.05 327.19 L662.01 329.27" fill="none" stroke="#584420" stroke-width="1.75" stroke-linecap="butt"/>
<polygon points="664.53,327.57 664.07,333.93 659.07,330.06" fill="#584420"/>
<path d="M519.72 603.93 L521.51 603.24 L523.29 602.54 L525.07 601.82 L526.84 601.08 L528.6 600.32 L530.35 599.55 L532.1 598.76 L533.84 597.95 L535.57 597.12 L537.29 596.28 L539 595.42 L540.7 594.54 L542.4 593.64 L544.08 592.73 L545.76 591.8 L547.43 590.86 L549.09 589.9 L550.73 588.92 L552.37 587.93 L554 586.91 L555.62 585.89 L557.23 584.84 L558.82 583.79 L560.41 582.71 L561.98 581.62 L563.55 580.51 L565.1 579.39 L566.64 578.25 L568.17 577.1 L569.69 575.93 L571.2 574.75 L572.7 573.55 L574.18 572.34 L575.65 571.11 L577.11 569.87 L578.56 568.61 L579.99 567.34 L581.41 566.06 L582.82 564.76 L584.21 563.44 L585.59 562.12 L586.96 560.77 L588.32 559.42 L589.66 558.05 L590.98 556.67 L592.3 555.28 L593.6 553.87 L594.88 552.45 L596.15 551.01 L597.41 549.57 L598.65 548.11 L599.88 546.64 L601.09 545.16 L602.29 543.66 L603.47 542.15 L604.64 540.64 L605.79 539.11 L606.93 537.56 L608.05 536.01 L609.15 534.45 L610.24 532.87 L611.32 531.29 L612.38 529.69 L613.42 528.08 L614.44 526.47 L615.45 524.84 L616.45 523.2 L617.42 521.56 L618.38 519.9 L619.33 518.23 L620.25 516.56 L621.17 514.87 L622.06 513.18 L622.93 511.48 L623.79 509.76 L624.64 508.05 L625.46 506.32 L626.27 504.58 L627.06 502.84 L627.83 501.09 L628.59 499.33 L629.32 497.56 L630.04 495.78 L630.74 494 L631.43 492.21 L632.09 490.42 L632.74 488.62 L633.37 486.81 L633.98 485 L634.58 483.18 L635.15 481.35 L635.71 479.52 L636.25 477.68 L636.77 475.84 L637.27 473.99 L637.75 472.14 L638.22 470.28 L638.66 468.42 L639.09 466.55 L639.5 464.68 L639.89 462.81 L640.26 460.93 L640.61 459.05 L640.95 457.16 L641.26 455.28 L641.56 453.39 L641.83 451.49 L642.09 449.59 L642.33 447.7 L642.55 445.79 L642.75 443.89 L642.93 441.98 L643.1 440.08 L643.24 438.17 L643.36 436.26 L643.47 434.35 L643.55 432.43 L643.62 430.52 L643.67 428.61 L643.7 426.69 L643.71 424.78 L643.7 422.87 L643.67 420.95 L643.62 419.04 L643.55 417.12 L643.47 415.21 L643.36 413.3 L643.24 411.39 L643.09 409.48 L642.93 407.58 L642.75 405.67 L642.55 403.77 L642.33 401.86" fill="none" stroke="#c0f297" stroke-width="6.2" stroke-linecap="butt"/>
<polygon points="648.25,401.67 641.18,393.85 636.52,403.05" fill="#c0f297"/>
<path d="M519.72 603.93 L521.5 603.25 L523.28 602.54 L525.05 601.83 L526.81 601.09 L528.57 600.34 L530.32 599.57 L532.05 598.78 L533.79 597.97 L535.51 597.15 L537.23 596.31 L538.93 595.45 L540.63 594.58 L542.32 593.69 L544 592.78 L545.67 591.85 L547.33 590.91 L548.99 589.96 L550.63 588.98 L552.26 587.99 L553.88 586.99 L555.5 585.97 L557.1 584.93 L558.69 583.87 L560.27 582.8 L561.84 581.72 L563.4 580.62 L564.95 579.5 L566.49 578.37 L568.02 577.22 L569.53 576.06 L571.03 574.88 L572.53 573.69 L574.01 572.48 L575.47 571.26 L576.93 570.02 L578.37 568.77 L579.8 567.51 L581.22 566.23 L582.62 564.94 L584.01 563.63 L585.39 562.31 L586.76 560.98 L588.11 559.63 L589.45 558.27 L590.77 556.89 L592.08 555.5 L593.38 554.1 L594.66 552.69 L595.93 551.27 L597.19 549.83 L598.43 548.38 L599.65 546.91 L600.86 545.44 L602.06 543.95 L603.24 542.45 L604.41 540.94 L605.56 539.42 L606.69 537.88 L607.81 536.34 L608.92 534.78 L610.01 533.22 L611.08 531.64 L612.14 530.05 L613.18 528.45 L614.21 526.84 L615.22 525.22 L616.21 523.59 L617.19 521.96 L618.15 520.31 L619.09 518.65 L620.02 516.98 L620.93 515.31 L621.83 513.62 L622.71 511.93 L623.57 510.22 L624.41 508.51 L625.24 506.79 L626.05 505.06 L626.84 503.33 L627.61 501.59 L628.37 499.83 L629.11 498.08 L629.83 496.31 L630.54 494.54 L631.22 492.76 L631.89 490.97 L632.54 489.18 L633.18 487.38 L633.79 485.57 L634.39 483.76 L634.97 481.94 L635.53 480.12 L636.07 478.29 L636.6 476.46 L637.1 474.62 L637.59 472.77 L638.06 470.92 L638.51 469.07 L638.94 467.21 L639.36 465.35 L639.75 463.48 L640.13 461.61 L640.49 459.74 L640.83 457.86 L641.15 455.98 L641.45 454.1 L641.73 452.21 L641.99 450.32 L642.24 448.43 L642.47 446.54 L642.67 444.64 L642.86 442.75 L643.03 440.85 L643.18 438.94 L643.31 437.04 L643.43 435.14 L643.52 433.23 L643.59 431.33 L643.65 429.42 L643.69 427.51 L643.7 425.61 L643.7 423.7 L643.68 421.79 L643.64 419.88 L643.58 417.98 L643.51 416.07 L643.41 414.17 L643.29 412.26 L643.16 410.36 L643.01 408.46 L642.83 406.56 L642.64 404.66 L642.43 402.77 L642.2 400.87" fill="none" stroke="#45542e" stroke-width="1.75" stroke-linecap="butt"/>
<polygon points="645.25,401 641.5,395.82 639.28,401.74" fill="#45542e"/>
<path d="M538.75 610.56 L540.53 609.72 L542.3 608.86 L544.06 607.99 L545.81 607.1 L547.55 606.2 L549.29 605.27 L551.02 604.33 L552.73 603.38 L554.44 602.41 L556.14 601.42 L557.83 600.41 L559.51 599.39 L561.18 598.35 L562.84 597.3 L564.49 596.23 L566.13 595.15 L567.76 594.05" fill="none" stroke="#c0f297" stroke-width="6.2" stroke-linecap="butt"/>
<polygon points="570.67,599.21 574.36,589.35 564.02,589.45" fill="#c0f297"/>
<path d="M538.75 610.56 L540.58 609.69 L542.4 608.81 L544.22 607.91 L546.02 606.99 L547.82 606.06 L549.6 605.11 L551.38 604.13 L553.14 603.15 L554.9 602.14 L556.65 601.12 L558.39 600.08 L560.11 599.02 L561.83 597.95 L563.53 596.86 L565.23 595.75 L566.91 594.62 L568.58 593.48" fill="none" stroke="#45542e" stroke-width="1.75" stroke-linecap="butt"/>
<polygon points="569.87,596.24 572.75,590.53 566.47,591.29" fill="#45542e"/>
<path d="M683.77 424.1 L683.76 426.41 L683.74 428.72 L683.69 431.03 L683.61 433.33 L683.52 435.64 L683.4 437.95 L683.25 440.25 L683.09 442.55 L682.9 444.85 L682.69 447.15 L682.45 449.45 L682.19 451.74 L681.91 454.04 L681.61 456.32 L681.28 458.61 L680.93 460.89 L680.56 463.17 L680.17 465.45 L679.75 467.72 L679.31 469.98 L678.85 472.25 L678.36 474.5 L677.86 476.76 L677.33 479 L676.77 481.24 L676.2 483.48 L675.6 485.71 L674.98 487.94 L674.34 490.15 L673.68 492.36 L672.99 494.57 L672.28 496.77 L671.55 498.96 L670.8 501.14 L670.03 503.32 L669.23 505.48 L668.41 507.64 L667.58 509.8 L666.72 511.94 L665.84 514.07 L664.93 516.2 L664.01 518.32 L663.07 520.42 L662.1 522.52 L661.11 524.61 L660.11 526.69 L659.08 528.76 L658.03 530.81 L656.96 532.86 L655.87 534.9 L654.76 536.92 L653.63 538.94 L652.48 540.94 L651.31 542.93 L650.12 544.91 L648.91 546.88 L647.68 548.83 L646.43 550.78 L645.16 552.71 L643.88 554.62 L642.57 556.53 L641.25 558.42 L639.9 560.3 L638.54 562.17 L637.16 564.02 L635.76 565.85 L634.34 567.68 L632.9 569.49 L631.45 571.28 L629.98 573.06 L628.49 574.83 L626.98 576.58 L625.46 578.32 L623.91 580.04 L622.35 581.74 L620.78 583.43 L619.19 585.1 L617.58 586.76 L615.95 588.4 L614.31 590.03 L612.65 591.64 L610.97 593.23 L609.28 594.8 L607.58 596.36 L605.86 597.9 L604.12 599.43 L602.37 600.94 L600.6 602.43 L598.82 603.9 L597.02 605.35 L595.21 606.79 L593.39 608.2 L591.55 609.6 L589.7 610.99 L587.83 612.35 L585.95 613.69 L584.06 615.02 L582.15 616.32 L580.23 617.61 L578.3 618.88 L576.35 620.13 L574.4 621.36 L572.43 622.57 L570.44 623.76 L568.45 624.93 L566.45 626.08 L564.43 627.21 L562.4 628.32 L560.36 629.41 L558.32 630.48 L556.26 631.53 L554.19 632.56 L552.11 633.57 L550.02 634.55 L547.92 635.52 L545.81 636.47 L543.69 637.39 L541.56 638.29 L539.42 639.18 L537.28 640.04 L535.12 640.88 L532.96 641.69 L530.79 642.49 L528.61 643.26 L526.42 644.02 L524.23 644.75 L522.03 645.46 L519.82 646.14 L517.61 646.81 L515.39 647.45 L513.16 648.07 L510.93 648.67 L508.69 649.25 L506.44 649.8 L504.19 650.34 L501.94 650.85 L499.68 651.33 L497.41 651.8 L495.14 652.24 L492.87 652.66 L490.59 653.05 L488.31 653.43 L486.02 653.78 L483.73 654.11 L481.44 654.41 L479.15 654.7 L476.85 654.96 L474.55 655.19 L472.25 655.41 L469.94 655.6 L467.64 655.77 L465.33 655.91 L463.02 656.03 L460.71 656.13 L458.4 656.21 L456.09 656.26 L453.77 656.29 L451.46 656.3 L449.15 656.28 L446.84 656.24 L444.53 656.18 L442.22 656.1 L439.91 655.99 L437.6 655.86 L435.29 655.71 L432.98 655.53 L430.68 655.33 L428.38 655.11 L426.08 654.86 L423.78 654.59 L421.49 654.3 L419.2 653.99 L416.91 653.65 L414.63 653.29 L412.35 652.91 L410.07 652.5 L407.8 652.07 L405.53 651.62 L403.27 651.15 L401.01 650.65 L398.75 650.14 L396.51 649.6 L394.26 649.03 L392.03 648.45 L389.8 647.84 L387.57 647.21 L385.35 646.56 L383.14 645.89 L380.94 645.19 L378.74 644.47 L376.55 643.73 L374.36 642.97 L372.19 642.19 L370.02 641.39 L367.86 640.56 L365.71 639.71 L363.57 638.84 L361.43 637.95 L359.31 637.04 L357.19 636.11 L355.09 635.16 L352.99 634.18 L350.91 633.19 L348.83 632.17 L346.76 631.13 L344.71 630.08 L342.66 629 L340.63 627.9 L338.6 626.78 L336.59 625.65 L334.59 624.49 L332.6 623.31 L330.63 622.11 L328.66 620.89 L326.71 619.66 L324.77 618.4 L322.84 617.13 L320.93 615.83 L319.03 614.52 L317.14 613.19 L315.26 611.83 L313.4 610.46 L311.55 609.08 L309.72 607.67 L307.9 606.25 L306.09 604.8 L304.3 603.34 L302.53 601.86 L300.77 600.37 L299.02 598.85" fill="none" stroke="#ffd588" stroke-width="6.2" stroke-linecap="butt"/>
<polygon points="295.51,603.63 293.02,593.41 303.28,594.74" fill="#ffd588"/>
<path d="M683.77 424.1 L683.76 426.41 L683.74 428.73 L683.69 431.04 L683.61 433.35 L683.51 435.66 L683.39 437.97 L683.25 440.28 L683.08 442.59 L682.9 444.89 L682.68 447.2 L682.45 449.5 L682.19 451.8 L681.91 454.09 L681.6 456.39 L681.27 458.68 L680.92 460.96 L680.55 463.24 L680.15 465.52 L679.74 467.8 L679.29 470.07 L678.83 472.33 L678.34 474.6 L677.83 476.85 L677.3 479.1 L676.75 481.35 L676.17 483.59 L675.57 485.82 L674.95 488.05 L674.3 490.27 L673.64 492.49 L672.95 494.7 L672.24 496.9 L671.51 499.09 L670.75 501.28 L669.97 503.46 L669.18 505.63 L668.36 507.79 L667.52 509.95 L666.65 512.1 L665.77 514.23 L664.86 516.36 L663.94 518.48 L662.99 520.59 L662.02 522.69 L661.03 524.79 L660.02 526.87 L658.99 528.94 L657.93 531 L656.86 533.05 L655.77 535.09 L654.65 537.12 L653.52 539.13 L652.36 541.14 L651.19 543.13 L650 545.11 L648.78 547.08 L647.55 549.04 L646.3 550.99 L645.02 552.92 L643.73 554.84 L642.42 556.75 L641.09 558.64 L639.74 560.52 L638.37 562.39 L636.99 564.24 L635.58 566.08 L634.16 567.91 L632.72 569.72 L631.26 571.51 L629.78 573.3 L628.29 575.06 L626.77 576.82 L625.24 578.55 L623.7 580.27 L622.13 581.98 L620.55 583.67 L618.95 585.34 L617.34 587 L615.71 588.65 L614.06 590.27 L612.39 591.88 L610.71 593.47 L609.02 595.05 L607.31 596.61 L605.58 598.15 L603.84 599.67 L602.08 601.18 L600.31 602.67 L598.52 604.14 L596.72 605.6 L594.9 607.03 L593.07 608.45 L591.23 609.85 L589.37 611.23 L587.49 612.59 L585.61 613.93 L583.71 615.26 L581.8 616.56 L579.87 617.85 L577.93 619.12 L575.98 620.36 L574.02 621.59 L572.04 622.8 L570.06 623.99 L568.06 625.16 L566.05 626.31 L564.02 627.43 L561.99 628.54 L559.94 629.63 L557.89 630.7 L555.82 631.75 L553.75 632.77 L551.66 633.78 L549.57 634.76 L547.46 635.73 L545.34 636.67 L543.22 637.59 L541.08 638.49 L538.94 639.37 L536.79 640.23 L534.63 641.06 L532.46 641.88 L530.29 642.67 L528.1 643.44 L525.91 644.19 L523.71 644.92 L521.5 645.62 L519.29 646.31 L517.07 646.97 L514.84 647.61 L512.61 648.22 L510.37 648.82 L508.13 649.39 L505.88 649.94 L503.62 650.47 L501.36 650.97 L499.09 651.45 L496.82 651.91 L494.55 652.35 L492.27 652.76 L489.99 653.16 L487.7 653.52 L485.41 653.87 L483.11 654.19 L480.82 654.49 L478.52 654.77 L476.21 655.02 L473.91 655.25 L471.6 655.46 L469.29 655.65 L466.98 655.81 L464.67 655.95 L462.35 656.06 L460.04 656.16 L457.72 656.23 L455.41 656.27 L453.09 656.3 L450.77 656.3 L448.46 656.27 L446.14 656.23 L443.83 656.16 L441.51 656.07 L439.2 655.95 L436.88 655.81 L434.57 655.65 L432.26 655.47 L429.96 655.26 L427.65 655.03 L425.35 654.78 L423.05 654.5 L420.75 654.2 L418.46 653.88 L416.17 653.53 L413.88 653.17 L411.6 652.78 L409.32 652.36 L407.04 651.93 L404.77 651.47 L402.5 650.99 L400.24 650.48 L397.99 649.96 L395.74 649.41 L393.49 648.83 L391.25 648.24 L389.02 647.62 L386.79 646.99 L384.57 646.33 L382.36 645.64 L380.15 644.94 L377.95 644.21 L375.76 643.46 L373.58 642.69 L371.4 641.9 L369.23 641.09 L367.07 640.25 L364.92 639.39 L362.78 638.52 L360.64 637.62 L358.52 636.7 L356.4 635.75 L354.29 634.79 L352.2 633.81 L350.11 632.8 L348.03 631.77 L345.97 630.73 L343.91 629.66 L341.87 628.57 L339.83 627.47 L337.81 626.34 L335.8 625.19 L333.8 624.02 L331.81 622.83 L329.84 621.63 L327.87 620.4 L325.92 619.15 L323.98 617.89 L322.06 616.6 L320.14 615.29 L318.25 613.97 L316.36 612.63 L314.49 611.27 L312.63 609.89 L310.78 608.49 L308.95 607.07 L307.13 605.64 L305.33 604.18 L303.54 602.71 L301.77 601.22 L300.01 599.72 L298.27 598.19" fill="none" stroke="#584420" stroke-width="1.75" stroke-linecap="butt"/>
<polygon points="296.66,600.77 294.48,594.77 300.63,596.27" fill="#584420"/>
<path d="M283.05 583.75 L281.54 582.13 L280.04 580.5 L278.56 578.85 L277.09 577.19 L275.64 575.52 L274.2 573.83 L272.79 572.13 L271.38 570.41 L270 568.68 L268.63 566.94 L267.28 565.19 L265.94 563.42 L264.62 561.64 L263.32 559.85 L262.04 558.04 L260.77 556.22 L259.52 554.39 L258.29 552.55 L257.08 550.7 L255.88 548.84 L254.7 546.96" fill="none" stroke="#ffd588" stroke-width="6.2" stroke-linecap="butt"/>
<polygon points="249.95,550.51 250.55,540 259.98,544.26" fill="#ffd588"/>
<path d="M283.05 583.75 L281.5 582.1 L279.97 580.43 L278.46 578.75 L276.96 577.05 L275.48 575.34 L274.02 573.61 L272.57 571.87 L271.14 570.12 L269.73 568.35 L268.34 566.57 L266.96 564.77 L265.6 562.96 L264.26 561.14 L262.94 559.3 L261.63 557.46 L260.34 555.59 L259.07 553.72 L257.82 551.84 L256.59 549.94 L255.37 548.03 L254.18 546.11" fill="none" stroke="#584420" stroke-width="1.75" stroke-linecap="butt"/>
<polygon points="251.88,548.11 251.55,541.73 257,544.96" fill="#584420"/>
<path d="M291.39 572.15 L289.98 570.61 L288.59 569.05 L287.22 567.49 L285.86 565.91 L284.52 564.32 L283.19 562.71 L281.87 561.1 L280.58 559.47 L279.29 557.82 L278.03 556.17 L276.78 554.5 L275.54 552.83 L274.32 551.14 L273.12 549.44 L271.94 547.72 L270.77 546 L269.62 544.26 L268.48 542.52 L267.36 540.76 L266.26 538.99 L265.17 537.22" fill="none" stroke="#ffd588" stroke-width="6.2" stroke-linecap="butt"/>
<polygon points="260.38,540.7 261.11,530.2 270.48,534.59" fill="#ffd588"/>
<path d="M291.39 572.15 L289.95 570.57 L288.53 568.98 L287.13 567.38 L285.74 565.76 L284.36 564.14 L283.01 562.49 L281.66 560.84 L280.34 559.17 L279.03 557.49 L277.74 555.79 L276.47 554.08 L275.21 552.36 L273.97 550.63 L272.74 548.89 L271.53 547.13 L270.34 545.37 L269.17 543.59 L268.02 541.8 L266.88 539.99 L265.76 538.18 L264.66 536.36" fill="none" stroke="#584420" stroke-width="1.75" stroke-linecap="butt"/>
<polygon points="262.34,538.33 262.09,531.95 267.49,535.24" fill="#584420"/>
<polyline points="291.75,413.75 302.5,415" fill="none" stroke="#7d7d7d" stroke-width="1" stroke-linejoin="round"/>
<polyline points="295,473.25 308,468.75" fill="none" stroke="#7d7d7d" stroke-width="1" stroke-linejoin="round"/>
<polyline points="306.25,348.75 320,356.25" fill="none" stroke="#7d7d7d" stroke-width="1" stroke-linejoin="round"/>
<polyline points="311.25,336.25 317.5,338.75" fill="none" stroke="#7d7d7d" stroke-width="1" stroke-linejoin="round"/>
<polyline points="591.5,371.1 605.6,366.4" fill="none" stroke="#7d7d7d" stroke-width="1" stroke-linejoin="round"/>
<text font-size="10.4" fill="#000" font-weight="normal"><textPath href="#p7" startOffset="50%" text-anchor="middle" textLength="72.5" lengthAdjust="spacingAndGlyphs">CMV enhancer</textPath></text>
<text font-size="10.4" fill="#000" font-weight="normal"><textPath href="#p8" startOffset="50%" text-anchor="middle" textLength="45.5" lengthAdjust="spacingAndGlyphs">HIV-1 ψ</textPath></text>
<text font-size="10.4" fill="#000" font-weight="normal"><textPath href="#p9" startOffset="50%" text-anchor="middle" textLength="24.8" lengthAdjust="spacingAndGlyphs">RRE</textPath></text>
<text font-size="10.4" fill="#000" font-weight="normal"><textPath href="#p10" startOffset="50%" text-anchor="middle" textLength="45.2" lengthAdjust="spacingAndGlyphs">cPPT/CTS</textPath></text>
<text font-size="10.4" fill="#000" font-weight="normal"><textPath href="#p11" startOffset="50%" text-anchor="middle" textLength="67" lengthAdjust="spacingAndGlyphs">U6 promoter</textPath></text>
<text font-size="10.4" fill="#000" font-weight="normal"><textPath href="#p12" startOffset="50%" text-anchor="middle" textLength="100" lengthAdjust="spacingAndGlyphs">nucleoplasmin NLS</textPath></text>
<text font-size="10.4" fill="#000" font-weight="normal"><textPath href="#p13" startOffset="50%" text-anchor="middle" textLength="70" lengthAdjust="spacingAndGlyphs">Factor Xa site</textPath></text>
<text font-size="10.4" fill="#000" font-weight="normal"><textPath href="#p14" startOffset="50%" text-anchor="middle" textLength="44" lengthAdjust="spacingAndGlyphs">SV40 ori</textPath></text>
<text font-size="10.4" fill="#000" font-weight="normal"><textPath href="#p15" startOffset="50%" text-anchor="middle" textLength="76.5" lengthAdjust="spacingAndGlyphs">SV40 promoter</textPath></text>
<text font-size="10.4" fill="#000" font-weight="normal"><textPath href="#p16" startOffset="50%" text-anchor="middle" textLength="27" lengthAdjust="spacingAndGlyphs">BleoR</textPath></text>
<text font-size="10.4" fill="#000" font-weight="normal"><textPath href="#p17" startOffset="50%" text-anchor="middle" textLength="26.5" lengthAdjust="spacingAndGlyphs">f1 ori</textPath></text>
<text font-size="10.4" fill="#000" font-weight="normal"><textPath href="#p18" startOffset="50%" text-anchor="middle" textLength="99.6" lengthAdjust="spacingAndGlyphs">bGH poly(A) signal</textPath></text>
<text font-size="10.4" fill="#000" font-weight="normal"><textPath href="#p19" startOffset="50%" text-anchor="middle" textLength="66.9" lengthAdjust="spacingAndGlyphs">3' LTR (ΔU3)</textPath></text>
<text font-size="10.4" fill="#000" font-weight="normal"><textPath href="#p20" startOffset="50%" text-anchor="middle" textLength="68.6" lengthAdjust="spacingAndGlyphs">lac promoter</textPath></text>
<text font-size="10.4" fill="#000" font-weight="normal"><textPath href="#p21" startOffset="50%" text-anchor="middle" textLength="104" lengthAdjust="spacingAndGlyphs">SV40 poly(A) signal</textPath></text>
<text font-size="10.4" fill="#000" font-weight="normal"><textPath href="#p22" startOffset="50%" text-anchor="middle" textLength="30.2" lengthAdjust="spacingAndGlyphs">AmpR</textPath></text>
<text font-size="10.4" fill="#000" font-weight="normal"><textPath href="#p23" startOffset="50%" text-anchor="middle" textLength="21" lengthAdjust="spacingAndGlyphs">P2A</textPath></text>
<text font-size="10" fill="#000" font-weight="normal"><textPath href="#p24" startOffset="50%" text-anchor="middle" textLength="31" lengthAdjust="spacingAndGlyphs">Pur...</textPath></text>
<text font-size="10.4" fill="#000" font-weight="normal"><textPath href="#p25" startOffset="50%" text-anchor="middle" textLength="33" lengthAdjust="spacingAndGlyphs">WPRE</textPath></text>
<text font-size="10.4" fill="#000" font-weight="normal"><textPath href="#p26" startOffset="50%" text-anchor="middle" textLength="15.3" lengthAdjust="spacingAndGlyphs">ori</textPath></text>
<text font-size="10.4" fill="#fff" font-weight="normal"><textPath href="#p27" startOffset="50%" text-anchor="middle" textLength="27.8" lengthAdjust="spacingAndGlyphs">Cas9</textPath></text>
<text font-size="10.4" fill="#fff" font-weight="normal"><textPath href="#p28" startOffset="50%" text-anchor="middle" textLength="27.8" lengthAdjust="spacingAndGlyphs">Cas9</textPath></text>
<text x="463.25" y="54.65" font-size="11.2" font-weight="bold" fill="#000" text-anchor="start" textLength="32.25" lengthAdjust="spacingAndGlyphs">SgrDI</text>
<text x="507.5" y="54.65" font-size="9.2" font-weight="normal" fill="#111" text-anchor="start" textLength="13" lengthAdjust="spacingAndGlyphs">(1)</text>
<text x="539.25" y="90.4" font-size="11.2" font-weight="bold" fill="#000" text-anchor="start" textLength="25" lengthAdjust="spacingAndGlyphs">SpeI</text>
<text x="576.5" y="90.4" font-size="9.2" font-weight="normal" fill="#111" text-anchor="start" textLength="25" lengthAdjust="spacingAndGlyphs">(252)</text>
<text x="566.25" y="108.4" font-size="11.2" font-weight="bold" fill="#000" text-anchor="start" textLength="33.25" lengthAdjust="spacingAndGlyphs">SnaBI</text>
<text x="612.5" y="108.4" font-size="9.2" font-weight="normal" fill="#111" text-anchor="start" textLength="25" lengthAdjust="spacingAndGlyphs">(593)</text>
<text x="660.75" y="196.65" font-size="11.2" font-weight="bold" fill="#000" text-anchor="start" textLength="24.25" lengthAdjust="spacingAndGlyphs">NotI</text>
<text x="696.25" y="196.65" font-size="9.2" font-weight="normal" fill="#111" text-anchor="start" textLength="30" lengthAdjust="spacingAndGlyphs">(1525)</text>
<text x="683.25" y="231.65" font-size="11.2" font-weight="bold" fill="#000" text-anchor="start" textLength="33" lengthAdjust="spacingAndGlyphs">BbvCI</text>
<text x="729.25" y="231.65" font-size="9.2" font-weight="normal" fill="#111" text-anchor="start" textLength="30" lengthAdjust="spacingAndGlyphs">(1801)</text>
<text x="694.25" y="253.4" font-size="11.2" font-weight="bold" fill="#000" text-anchor="start" textLength="22.5" lengthAdjust="spacingAndGlyphs">AleI</text>
<text x="728" y="253.4" font-size="9.2" font-weight="normal" fill="#111" text-anchor="start" textLength="30.25" lengthAdjust="spacingAndGlyphs">(1954)</text>
<text x="715" y="297.15" font-size="11.2" font-weight="bold" fill="#000" text-anchor="start" textLength="24.5" lengthAdjust="spacingAndGlyphs">PacI</text>
<text x="751.25" y="297.15" font-size="9.2" font-weight="normal" fill="#111" text-anchor="start" textLength="30" lengthAdjust="spacingAndGlyphs">(2598)</text>
<text x="720" y="309.15" font-size="11.2" font-weight="bold" fill="#000" text-anchor="start" textLength="38.25" lengthAdjust="spacingAndGlyphs">Acc65I</text>
<text x="770.75" y="309.15" font-size="9.2" font-weight="normal" fill="#111" text-anchor="start" textLength="30.5" lengthAdjust="spacingAndGlyphs">(2602)</text>
<text x="724.25" y="321.15" font-size="11.2" font-weight="bold" fill="#000" text-anchor="start" textLength="26.25" lengthAdjust="spacingAndGlyphs">KpnI</text>
<text x="763" y="321.15" font-size="9.2" font-weight="normal" fill="#111" text-anchor="start" textLength="30" lengthAdjust="spacingAndGlyphs">(2606)</text>
<text x="740" y="386.65" font-size="11.2" font-weight="bold" fill="#000" text-anchor="start" textLength="31.75" lengthAdjust="spacingAndGlyphs">EcoRI</text>
<text x="784.5" y="386.65" font-size="9.2" font-weight="normal" fill="#111" text-anchor="start" textLength="30.5" lengthAdjust="spacingAndGlyphs">(2960)</text>
<text x="741.25" y="398.4" font-size="11.2" font-weight="bold" fill="#000" text-anchor="start" textLength="26.25" lengthAdjust="spacingAndGlyphs">NheI</text>
<text x="780" y="398.4" font-size="9.2" font-weight="normal" fill="#111" text-anchor="start" textLength="30" lengthAdjust="spacingAndGlyphs">(2966)</text>
<text x="742" y="410.4" font-size="11.2" font-weight="bold" fill="#000" text-anchor="start" textLength="27.5" lengthAdjust="spacingAndGlyphs">BmtI</text>
<text x="783" y="410.4" font-size="9.2" font-weight="normal" fill="#111" text-anchor="start" textLength="30" lengthAdjust="spacingAndGlyphs">(2970)</text>
<text x="743" y="447.15" font-size="11.2" font-weight="bold" fill="#000" text-anchor="start" textLength="25.75" lengthAdjust="spacingAndGlyphs">AgeI</text>
<text x="781.75" y="447.15" font-size="9.2" font-weight="normal" fill="#111" text-anchor="start" textLength="30.25" lengthAdjust="spacingAndGlyphs">(3228)</text>
<text x="742" y="459.15" font-size="11.2" font-weight="bold" fill="#000" text-anchor="start" textLength="26" lengthAdjust="spacingAndGlyphs">XbaI</text>
<text x="780.75" y="459.15" font-size="9.2" font-weight="normal" fill="#111" text-anchor="start" textLength="30" lengthAdjust="spacingAndGlyphs">(3234)</text>
<text x="740" y="471.15" font-size="11.2" font-weight="bold" fill="#000" text-anchor="start" textLength="23" lengthAdjust="spacingAndGlyphs">AfeI</text>
<text x="775" y="471.15" font-size="9.2" font-weight="normal" fill="#111" text-anchor="start" textLength="30" lengthAdjust="spacingAndGlyphs">(3241)</text>
<text x="635.3" y="661.2" font-size="11.2" font-weight="bold" fill="#000" text-anchor="start" textLength="34.2" lengthAdjust="spacingAndGlyphs">EcoRV</text>
<text x="683.5" y="661.2" font-size="9.2" font-weight="normal" fill="#111" text-anchor="start" textLength="30" lengthAdjust="spacingAndGlyphs">(5104)</text>
<text x="420.5" y="728.4" font-size="11.2" font-weight="bold" fill="#000" text-anchor="start" textLength="32" lengthAdjust="spacingAndGlyphs">BsaBI</text>
<text x="472.5" y="728.4" font-size="9.2" font-weight="normal" fill="#111" text-anchor="start" textLength="30" lengthAdjust="spacingAndGlyphs">(6749)</text>
<text x="360.5" y="73.4" font-size="11.2" font-weight="bold" fill="#000" text-anchor="start" textLength="25" lengthAdjust="spacingAndGlyphs">SspI</text>
<text x="314.5" y="73.4" font-size="9.2" font-weight="normal" fill="#111" text-anchor="start" textLength="39.25" lengthAdjust="spacingAndGlyphs">(12,897)</text>
<text x="303.25" y="109.15" font-size="11.2" font-weight="bold" fill="#000" text-anchor="start" textLength="26" lengthAdjust="spacingAndGlyphs">PvuI</text>
<text x="257.5" y="109.15" font-size="9.2" font-weight="normal" fill="#111" text-anchor="start" textLength="39.25" lengthAdjust="spacingAndGlyphs">(12,463)</text>
<text x="289.5" y="121.65" font-size="11.2" font-weight="bold" fill="#000" text-anchor="start" textLength="24.25" lengthAdjust="spacingAndGlyphs">FspI</text>
<text x="243.25" y="121.65" font-size="9.2" font-weight="normal" fill="#111" text-anchor="start" textLength="39.25" lengthAdjust="spacingAndGlyphs">(12,315)</text>
<text x="218.75" y="199.9" font-size="11.2" font-weight="bold" fill="#000" text-anchor="start" textLength="21.25" lengthAdjust="spacingAndGlyphs">PciI</text>
<text x="172.5" y="199.9" font-size="9.2" font-weight="normal" fill="#111" text-anchor="start" textLength="39.25" lengthAdjust="spacingAndGlyphs">(11,200)</text>
<text x="126.75" y="326.15" font-size="11.2" font-weight="bold" fill="#000" text-anchor="start" textLength="43.75" lengthAdjust="spacingAndGlyphs">BstZ17I</text>
<text x="80.5" y="326.15" font-size="9.2" font-weight="normal" fill="#111" text-anchor="start" textLength="39" lengthAdjust="spacingAndGlyphs">(10,821)</text>
<text x="136.75" y="374.15" font-size="11.2" font-weight="bold" fill="#000" text-anchor="start" textLength="23.25" lengthAdjust="spacingAndGlyphs">FseI</text>
<text x="90.5" y="374.15" font-size="9.2" font-weight="normal" fill="#111" text-anchor="start" textLength="39" lengthAdjust="spacingAndGlyphs">(10,461)</text>
<text x="126.75" y="386.15" font-size="11.2" font-weight="bold" fill="#000" text-anchor="start" textLength="31.25" lengthAdjust="spacingAndGlyphs">SgrAI</text>
<text x="80.5" y="386.15" font-size="9.2" font-weight="normal" fill="#111" text-anchor="start" textLength="39" lengthAdjust="spacingAndGlyphs">(10,299)</text>
<text x="121.75" y="398.4" font-size="11.2" font-weight="bold" fill="#000" text-anchor="start" textLength="35.25" lengthAdjust="spacingAndGlyphs">MauBI</text>
<text x="75.5" y="398.4" font-size="9.2" font-weight="normal" fill="#111" text-anchor="start" textLength="39" lengthAdjust="spacingAndGlyphs">(10,221)</text>
<text x="125.5" y="434.15" font-size="11.2" font-weight="bold" fill="#000" text-anchor="start" textLength="29" lengthAdjust="spacingAndGlyphs">AvrII</text>
<text x="79.5" y="434.15" font-size="9.2" font-weight="normal" fill="#111" text-anchor="start" textLength="38.75" lengthAdjust="spacingAndGlyphs">(10,056)</text>
<text x="145.5" y="539.9" font-size="11.2" font-weight="bold" fill="#000" text-anchor="start" textLength="29" lengthAdjust="spacingAndGlyphs">PmeI</text>
<text x="108.75" y="539.9" font-size="9.2" font-weight="normal" fill="#111" text-anchor="start" textLength="30" lengthAdjust="spacingAndGlyphs">(9008)</text>
<text x="213.75" y="661.65" font-size="11.2" font-weight="bold" fill="#000" text-anchor="start" textLength="34.5" lengthAdjust="spacingAndGlyphs">BstEII</text>
<text x="176.25" y="661.65" font-size="9.2" font-weight="normal" fill="#111" text-anchor="start" textLength="30" lengthAdjust="spacingAndGlyphs">(7624)</text>
<text x="233.75" y="674.15" font-size="11.2" font-weight="bold" fill="#000" text-anchor="start" textLength="28.25" lengthAdjust="spacingAndGlyphs">RsrII</text>
<text x="196.25" y="674.15" font-size="9.2" font-weight="normal" fill="#111" text-anchor="start" textLength="30" lengthAdjust="spacingAndGlyphs">(7606)</text>
<text x="241.75" y="686.15" font-size="11.2" font-weight="bold" fill="#000" text-anchor="start" textLength="32.5" lengthAdjust="spacingAndGlyphs">BsiWI</text>
<text x="204.5" y="686.15" font-size="9.2" font-weight="normal" fill="#111" text-anchor="start" textLength="30" lengthAdjust="spacingAndGlyphs">(7546)</text>
<text x="199.5" y="697.9" font-size="11.2" font-weight="bold" fill="#000" text-anchor="start" textLength="25.5" lengthAdjust="spacingAndGlyphs">PflFI</text>
<text x="162.5" y="697.9" font-size="9.2" font-weight="normal" fill="#111" text-anchor="start" textLength="30" lengthAdjust="spacingAndGlyphs">(7532)</text>
<text x="264.5" y="709.9" font-size="11.2" font-weight="bold" fill="#000" text-anchor="start" textLength="37.5" lengthAdjust="spacingAndGlyphs">BamHI</text>
<text x="227.5" y="709.9" font-size="9.2" font-weight="normal" fill="#111" text-anchor="start" textLength="30" lengthAdjust="spacingAndGlyphs">(7427)</text>
<text x="458.75" y="728.4" font-size="12" font-weight="bold" fill="#000" text-anchor="start" textLength="5.75" lengthAdjust="spacingAndGlyphs">*</text>
<polyline points="235.8,694.3 239,694.3" fill="none" stroke="#111" stroke-width="1.2" stroke-linejoin="round"/>
<text x="243" y="697.9" font-size="11.2" font-weight="bold" fill="#000" text-anchor="start" textLength="45" lengthAdjust="spacingAndGlyphs">Tth111I</text>
<text x="507.5" y="72.4" font-size="11.2" font-weight="normal" fill="#a020f0" text-anchor="start" textLength="60" lengthAdjust="spacingAndGlyphs">pRS-marker</text>
<text x="580.75" y="72.4" font-size="9.2" font-weight="normal" fill="#a020f0" text-anchor="start" textLength="43.5" lengthAdjust="spacingAndGlyphs">(47 .. 66)</text>
<text x="609.5" y="144.15" font-size="11.2" font-weight="normal" fill="#a020f0" text-anchor="start" textLength="31.75" lengthAdjust="spacingAndGlyphs">CMV-F</text>
<text x="656.25" y="144.15" font-size="9.2" font-weight="normal" fill="#a020f0" text-anchor="start" textLength="55" lengthAdjust="spacingAndGlyphs">(772 .. 792)</text>
<text x="730.5" y="339.15" font-size="11.2" font-weight="normal" fill="#a020f0" text-anchor="start" textLength="29.5" lengthAdjust="spacingAndGlyphs">hU6-F</text>
<text x="772" y="339.15" font-size="9.2" font-weight="normal" fill="#a020f0" text-anchor="start" textLength="66.25" lengthAdjust="spacingAndGlyphs">(2608 .. 2628)</text>
<text x="733.25" y="351.15" font-size="11.2" font-weight="normal" fill="#a020f0" text-anchor="start" textLength="42.25" lengthAdjust="spacingAndGlyphs">LKO.1 5'</text>
<text x="791.25" y="351.15" font-size="9.2" font-weight="normal" fill="#a020f0" text-anchor="start" textLength="66.25" lengthAdjust="spacingAndGlyphs">(2779 .. 2798)</text>
<text x="319.25" y="91.65" font-size="11.2" font-weight="normal" fill="#a020f0" text-anchor="start" textLength="34" lengthAdjust="spacingAndGlyphs">Amp-R</text>
<text x="228.75" y="91.65" font-size="9.2" font-weight="normal" fill="#a020f0" text-anchor="start" textLength="83.75" lengthAdjust="spacingAndGlyphs">(12,643 .. 12,662)</text>
<text x="190" y="182.9" font-size="11.2" font-weight="normal" fill="#a020f0" text-anchor="start" textLength="61.25" lengthAdjust="spacingAndGlyphs">pBR322ori-F</text>
<text x="98.25" y="182.9" font-size="9.2" font-weight="normal" fill="#a020f0" text-anchor="start" textLength="84.25" lengthAdjust="spacingAndGlyphs">(11,341 .. 11,360)</text>
<text x="194.5" y="218.65" font-size="11.2" font-weight="normal" fill="#a020f0" text-anchor="start" textLength="30" lengthAdjust="spacingAndGlyphs">L4440</text>
<text x="103.25" y="218.65" font-size="9.2" font-weight="normal" fill="#a020f0" text-anchor="start" textLength="84.25" lengthAdjust="spacingAndGlyphs">(11,090 .. 11,107)</text>
<text x="113.75" y="254.15" font-size="11.2" font-weight="normal" fill="#a020f0" text-anchor="start" textLength="88.75" lengthAdjust="spacingAndGlyphs">M13/pUC Reverse</text>
<text x="22.5" y="254.15" font-size="9.2" font-weight="normal" fill="#a020f0" text-anchor="start" textLength="84.25" lengthAdjust="spacingAndGlyphs">(10,872 .. 10,894)</text>
<text x="122.5" y="290.4" font-size="11.2" font-weight="normal" fill="#a020f0" text-anchor="start" textLength="63.75" lengthAdjust="spacingAndGlyphs">M13 Reverse</text>
<text x="31.25" y="290.4" font-size="9.2" font-weight="normal" fill="#a020f0" text-anchor="start" textLength="84.25" lengthAdjust="spacingAndGlyphs">(10,859 .. 10,875)</text>
<text x="126.75" y="344.15" font-size="11.2" font-weight="normal" fill="#a020f0" text-anchor="start" textLength="39.5" lengthAdjust="spacingAndGlyphs">EBV-rev</text>
<text x="35.75" y="344.15" font-size="9.2" font-weight="normal" fill="#a020f0" text-anchor="start" textLength="83.75" lengthAdjust="spacingAndGlyphs">(10,780 .. 10,799)</text>
<text x="111.25" y="356.15" font-size="11.2" font-weight="normal" fill="#a020f0" text-anchor="start" textLength="50" lengthAdjust="spacingAndGlyphs">SV40pA-R</text>
<text x="20.5" y="356.15" font-size="9.2" font-weight="normal" fill="#a020f0" text-anchor="start" textLength="84" lengthAdjust="spacingAndGlyphs">(10,726 .. 10,745)</text>
<text x="102.5" y="452.15" font-size="11.2" font-weight="normal" fill="#a020f0" text-anchor="start" textLength="52.5" lengthAdjust="spacingAndGlyphs">SV40pro-F</text>
<text x="20.5" y="452.15" font-size="9.2" font-weight="normal" fill="#a020f0" text-anchor="start" textLength="74.5" lengthAdjust="spacingAndGlyphs">(9984 .. 10,003)</text>
<text x="111.75" y="470.4" font-size="11.2" font-weight="normal" fill="#a020f0" text-anchor="start" textLength="44.5" lengthAdjust="spacingAndGlyphs">pBABE 3'</text>
<text x="38.75" y="470.4" font-size="9.2" font-weight="normal" fill="#a020f0" text-anchor="start" textLength="65.75" lengthAdjust="spacingAndGlyphs">(9737 .. 9757)</text>
<text x="124.5" y="482.15" font-size="11.2" font-weight="normal" fill="#a020f0" text-anchor="start" textLength="34.75" lengthAdjust="spacingAndGlyphs">F1ori-F</text>
<text x="51.25" y="482.15" font-size="9.2" font-weight="normal" fill="#a020f0" text-anchor="start" textLength="66.25" lengthAdjust="spacingAndGlyphs">(9597 .. 9618)</text>
<text x="125.75" y="494.15" font-size="11.2" font-weight="normal" fill="#a020f0" text-anchor="start" textLength="35.5" lengthAdjust="spacingAndGlyphs">F1ori-R</text>
<text x="52.5" y="494.15" font-size="9.2" font-weight="normal" fill="#a020f0" text-anchor="start" textLength="65.75" lengthAdjust="spacingAndGlyphs">(9387 .. 9406)</text>
<text x="125.75" y="522.4" font-size="11.2" font-weight="normal" fill="#a020f0" text-anchor="start" textLength="41.25" lengthAdjust="spacingAndGlyphs">BGH-rev</text>
<text x="52.5" y="522.4" font-size="9.2" font-weight="normal" fill="#a020f0" text-anchor="start" textLength="65.75" lengthAdjust="spacingAndGlyphs">(9024 .. 9041)</text>
<text x="169.5" y="614.15" font-size="11.2" font-weight="normal" fill="#a020f0" text-anchor="start" textLength="39.75" lengthAdjust="spacingAndGlyphs">WPRE-R</text>
<text x="96.75" y="614.15" font-size="9.2" font-weight="normal" fill="#a020f0" text-anchor="start" textLength="65.75" lengthAdjust="spacingAndGlyphs">(8158 .. 8178)</text>
<text x="189.5" y="625.4" font-size="11.2" font-weight="normal" fill="#a020f0" text-anchor="start" textLength="32.25" lengthAdjust="spacingAndGlyphs">Puro-F</text>
<text x="116" y="625.4" font-size="9.2" font-weight="normal" fill="#a020f0" text-anchor="start" textLength="65.5" lengthAdjust="spacingAndGlyphs">(7986 .. 8006)</text>
<rect x="345.5" y="45.5" width="86.5" height="11.5" rx="3.5" ry="3.5" fill="#ffffff" stroke="#9a9a9a" stroke-width="1"/>
<text x="348.25" y="55.4" font-size="11.2" font-weight="normal" fill="#000" text-anchor="start" textLength="79.75" lengthAdjust="spacingAndGlyphs">AmpR promoter</text>
<rect x="586.75" y="117" width="78.75" height="11.75" rx="3.5" ry="3.5" fill="#ffffff" stroke="#9a9a9a" stroke-width="1"/>
<text x="589.5" y="125.9" font-size="11.2" font-weight="normal" fill="#000" text-anchor="start" textLength="73" lengthAdjust="spacingAndGlyphs">CMV promoter</text>
<rect x="624.25" y="152.5" width="98.25" height="12.5" rx="3.5" ry="3.5" fill="#ffe0bd" stroke="#c9a57f" stroke-width="1"/>
<text x="627.5" y="162.15" font-size="11.2" font-weight="normal" fill="#000" text-anchor="start" textLength="90" lengthAdjust="spacingAndGlyphs">5' LTR (truncated)</text>
<rect x="702" y="264.5" width="71.25" height="12.5" rx="3.5" ry="3.5" fill="#dcb3c6" stroke="#b58aa0" stroke-width="1"/>
<text x="705" y="274.15" font-size="11.2" font-weight="normal" fill="#000" text-anchor="start" textLength="65" lengthAdjust="spacingAndGlyphs">gp41 peptide</text>
<rect x="733.75" y="359.25" width="76.75" height="12" rx="3.5" ry="3.5" fill="#30c4f2" stroke="#1a9fd0" stroke-width="1"/>
<text x="736.75" y="368.65" font-size="11.2" font-weight="normal" fill="#000" text-anchor="start" textLength="68.25" lengthAdjust="spacingAndGlyphs">gRNA scaffold</text>
<rect x="740" y="419.25" width="110" height="11.25" rx="3.5" ry="3.5" fill="#ffffff" stroke="#9a9a9a" stroke-width="1"/>
<text x="743" y="428.8" font-size="11.2" font-weight="normal" fill="#000" text-anchor="start" textLength="103.25" lengthAdjust="spacingAndGlyphs">EF-1α core promoter</text>
<rect x="134.25" y="226.75" width="88.25" height="12.5" rx="3.5" ry="3.5" fill="#a9cfda" stroke="#4f8fa3" stroke-width="1"/>
<text x="137.5" y="236.15" font-size="11.2" font-weight="normal" fill="#000" text-anchor="start" textLength="81.25" lengthAdjust="spacingAndGlyphs">CAP binding site</text>
<rect x="137.25" y="262.5" width="65.75" height="12.5" rx="3.5" ry="3.5" fill="#a9cfda" stroke="#4f8fa3" stroke-width="1"/>
<text x="140.75" y="272.4" font-size="11.2" font-weight="normal" fill="#000" text-anchor="start" textLength="59.25" lengthAdjust="spacingAndGlyphs">lac operator</text>
<rect x="139.25" y="298.25" width="47.75" height="11.75" rx="3.5" ry="3.5" fill="#ddb2fa" stroke="#9a35e0" stroke-width="1"/>
<text x="142.5" y="308.4" font-size="11.2" font-weight="normal" fill="#000" text-anchor="start" textLength="40.75" lengthAdjust="spacingAndGlyphs">M13 rev</text>
<rect x="86.25" y="406.75" width="77.5" height="11.5" rx="3.5" ry="3.5" fill="#ffffff" stroke="#9a9a9a" stroke-width="1"/>
<text x="89.25" y="416.15" font-size="11.2" font-weight="normal" fill="#000" text-anchor="start" textLength="70.75" lengthAdjust="spacingAndGlyphs">EM7 promoter</text>
<rect x="207.5" y="634.5" width="36.25" height="11.75" rx="3.5" ry="3.5" fill="#c9f7c6" stroke="#7fbf7f" stroke-width="1"/>
<text x="210.5" y="644.15" font-size="11.2" font-weight="normal" fill="#000" text-anchor="start" textLength="28.75" lengthAdjust="spacingAndGlyphs">PuroR</text>
<rect x="305.5" y="718.75" width="34.5" height="12.5" rx="3.5" ry="3.5" fill="#dcb3c6" stroke="#b58aa0" stroke-width="1"/>
<text x="308.75" y="728.65" font-size="11.2" font-weight="normal" fill="#000" text-anchor="start" textLength="25" lengthAdjust="spacingAndGlyphs">FLAG</text>
<text x="452.4" y="424" font-size="11.5" font-weight="bold" fill="#000" text-anchor="middle" textLength="55.5" lengthAdjust="spacingAndGlyphs">LCV2 V-2</text>
<text x="452.6" y="435.8" font-size="10.2" font-weight="normal" fill="#000" text-anchor="middle" textLength="50" lengthAdjust="spacingAndGlyphs">13,013 bp</text>
<text x="783.9" y="10.3" font-size="7.6" font-weight="normal" fill="#b4b4b4" text-anchor="start" textLength="37.2" lengthAdjust="spacingAndGlyphs">Created by</text>
<path d="M823.7 1.6 h3.3 v7.2 l-1.35 3.7 h-0.6 l-1.35 -3.7 z" fill="#9fd3f5"/>
<path d="M827.6 1.6 h1.4 q1.5 0 1.5 1.9 q0 1.9 -1.5 1.9 h-1.4 z" fill="#bfe3f9"/>
<text x="833" y="10.5" font-size="10.2" font-weight="normal" fill="#8e96a2" text-anchor="start" textLength="44" lengthAdjust="spacingAndGlyphs">SnapGene</text>
</svg></body></html>
